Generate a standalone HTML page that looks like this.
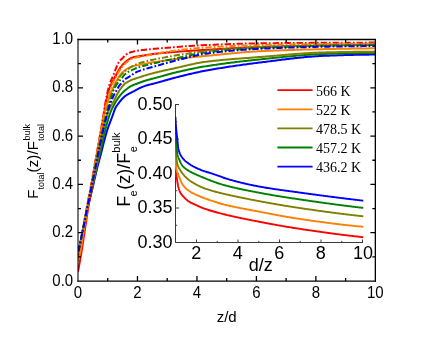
<!DOCTYPE html>
<html><head><meta charset="utf-8"><title>chart</title>
<style>
html,body{margin:0;padding:0;background:#fff;}
body{width:436px;height:337px;overflow:hidden;}
svg{display:block;will-change:transform;}
text{font-family:"Liberation Sans",sans-serif;fill:#000;}
.lg{font-family:"Liberation Serif",serif;font-size:14px;}
.t{font-size:15px;}
.ti{font-size:18px;}
.c{fill:none;stroke-linejoin:round;stroke-linecap:butt;}
</style></head><body>
<svg width="436" height="337" viewBox="0 0 436 337">
<rect width="436" height="337" fill="#fff"/>
<defs><clipPath id="ci"><rect x="175.0" y="100" width="200" height="142.5"/></clipPath><clipPath id="cp"><rect x="78.0" y="39.5" width="297.35" height="241.5"/></clipPath></defs>

<g clip-path="url(#cp)">
<path class="c" d="M78.00,252.00 L78.34,250.64 L78.68,249.27 L79.01,247.91 L79.35,246.54 L79.68,245.18 L80.00,243.81 L80.33,242.44 L80.65,241.08 L80.98,239.71 L81.29,238.34 L81.61,236.97 L81.93,235.60 L82.24,234.23 L82.55,232.86 L82.85,231.49 L83.15,230.12 L83.46,228.75 L83.75,227.37 L84.04,226.00 L84.32,224.62 L84.60,223.24 L84.87,221.87 L85.14,220.49 L85.41,219.11 L85.68,217.73 L85.95,216.35 L86.22,214.97 L86.49,213.59 L86.76,212.21 L87.04,210.83 L87.33,209.46 L87.62,208.08 L87.92,206.71 L88.22,205.34 L88.54,203.97 L88.87,202.61 L89.21,201.25 L89.56,199.89 L89.92,198.53 L90.28,197.17 L90.63,195.81 L90.98,194.45 L91.33,193.09 L91.67,191.72 L92.00,190.36 L92.32,188.99 L92.64,187.62 L92.96,186.25 L93.28,184.88 L93.59,183.51 L93.90,182.14 L94.21,180.77 L94.52,179.40 L94.83,178.03 L95.14,176.66 L95.46,175.29 L95.78,173.92 L96.10,172.56 L96.42,171.19 L96.75,169.82 L97.09,168.46 L97.43,167.10 L97.77,165.74 L98.13,164.38 L98.49,163.02 L98.85,161.66 L99.21,160.30 L99.57,158.95 L99.94,157.59 L100.30,156.23 L100.67,154.87 L101.03,153.52 L101.38,152.16 L101.73,150.79 L102.08,149.43 L102.42,148.07 L102.76,146.70 L103.11,145.34 L103.45,143.97 L103.79,142.61 L104.14,141.25 L104.49,139.89 L104.85,138.53 L105.22,137.17 L105.59,135.82 L105.97,134.47 L106.36,133.12 L106.76,131.78 L107.18,130.44 L107.61,129.11 L108.06,127.78 L108.52,126.45 L109.00,125.13 L109.49,123.81 L109.98,122.50 L110.48,121.18 L110.98,119.87 L111.49,118.55 L111.99,117.24 L112.49,115.92 L112.98,114.61 L113.45,113.28 L113.90,111.94 L114.35,110.60 L114.84,109.28 L115.40,108.01 L116.06,106.80 L116.84,105.62 L117.68,104.48 L118.54,103.35 L119.39,102.23 L120.25,101.12 L121.14,100.02 L122.07,98.96 L123.04,97.97 L124.07,97.01 L125.16,96.10 L126.29,95.27 L127.47,94.54 L128.71,93.87 L129.97,93.23 L131.23,92.59 L132.47,91.93 L133.71,91.28 L134.96,90.62 L136.19,89.94 L137.42,89.26 L138.66,88.62 L139.94,88.03 L141.22,87.46 L142.52,86.91 L143.83,86.40 L145.15,85.92 L146.48,85.48 L147.82,85.08 L149.18,84.71 L150.54,84.36 L151.91,84.03 L153.28,83.69 L154.64,83.35 L156.00,83.00 L157.36,82.63 L158.71,82.25 L160.07,81.87 L161.42,81.49 L162.77,81.10 L164.12,80.71 L165.47,80.32 L166.82,79.93 L168.17,79.55 L169.52,79.17 L170.88,78.79 L172.23,78.42 L173.59,78.06 L174.95,77.71 L176.31,77.37 L177.67,77.02 L179.03,76.68 L180.40,76.34 L181.76,76.00 L183.13,75.66 L184.49,75.32 L185.86,74.99 L187.23,74.65 L188.59,74.33 L189.96,74.00 L191.33,73.68 L192.70,73.37 L194.07,73.06 L195.45,72.75 L196.82,72.45 L198.19,72.16 L199.57,71.87 L200.94,71.59 L202.32,71.31 L203.69,71.05 L205.07,70.79 L206.45,70.53 L207.83,70.28 L209.21,70.03 L210.59,69.78 L211.97,69.54 L213.36,69.30 L214.74,69.06 L216.13,68.82 L217.51,68.59 L218.90,68.36 L220.28,68.13 L221.67,67.90 L223.06,67.68 L224.44,67.46 L225.83,67.24 L227.22,67.02 L228.61,66.81 L230.00,66.59 L231.39,66.38 L232.78,66.18 L234.18,65.97 L235.57,65.77 L236.96,65.56 L238.35,65.37 L239.74,65.17 L241.14,64.97 L242.53,64.78 L243.92,64.59 L245.32,64.40 L246.71,64.21 L248.10,64.02 L249.50,63.84 L250.89,63.65 L252.28,63.47 L253.68,63.29 L255.07,63.12 L256.46,62.94 L257.86,62.77 L259.25,62.59 L260.64,62.42 L262.04,62.25 L263.43,62.07 L264.83,61.90 L266.22,61.72 L267.61,61.54 L269.01,61.37 L270.40,61.19 L271.80,61.01 L273.19,60.83 L274.59,60.65 L275.98,60.47 L277.38,60.30 L278.78,60.12 L280.17,59.94 L281.57,59.77 L282.96,59.60 L284.36,59.42 L285.76,59.25 L287.16,59.08 L288.55,58.92 L289.95,58.75 L291.35,58.59 L292.75,58.43 L294.14,58.27 L295.54,58.11 L296.94,57.96 L298.34,57.81 L299.74,57.66 L301.13,57.52 L302.53,57.38 L303.93,57.25 L305.33,57.12 L306.73,56.99 L308.13,56.87 L309.53,56.75 L310.93,56.64 L312.33,56.53 L313.73,56.43 L315.13,56.33 L316.53,56.23 L317.93,56.15 L319.33,56.07 L320.73,55.99 L322.13,55.92 L323.53,55.86 L324.94,55.80 L326.34,55.75 L327.74,55.70 L329.14,55.65 L330.54,55.59 L331.94,55.54 L333.35,55.49 L334.75,55.44 L336.15,55.40 L337.55,55.35 L338.96,55.30 L340.36,55.25 L341.76,55.21 L343.17,55.17 L344.57,55.12 L345.98,55.08 L347.38,55.04 L348.78,55.00 L350.19,54.96 L351.59,54.93 L353.00,54.89 L354.40,54.86 L355.81,54.83 L357.21,54.80 L358.62,54.77 L360.03,54.74 L361.43,54.72 L362.84,54.70 L364.24,54.68 L365.65,54.66 L367.06,54.65 L368.46,54.63 L369.87,54.62 L371.28,54.61 L372.69,54.61 L374.09,54.60 L375.50,54.60" stroke="#0000ff" stroke-width="2"/>
<path class="c" d="M78.00,253.00 L78.34,251.62 L78.68,250.23 L79.01,248.84 L79.34,247.46 L79.67,246.07 L80.00,244.68 L80.32,243.29 L80.65,241.90 L80.97,240.52 L81.28,239.13 L81.60,237.74 L81.91,236.34 L82.22,234.95 L82.52,233.56 L82.82,232.17 L83.12,230.77 L83.42,229.38 L83.71,227.99 L84.00,226.59 L84.28,225.19 L84.55,223.79 L84.82,222.39 L85.08,220.99 L85.35,219.59 L85.61,218.19 L85.87,216.79 L86.13,215.39 L86.40,213.98 L86.66,212.58 L86.93,211.18 L87.21,209.79 L87.49,208.39 L87.78,206.99 L88.07,205.60 L88.37,204.21 L88.69,202.82 L89.02,201.43 L89.35,200.04 L89.69,198.66 L90.03,197.27 L90.37,195.89 L90.71,194.50 L91.04,193.12 L91.36,191.73 L91.68,190.34 L91.99,188.95 L92.31,187.56 L92.61,186.17 L92.92,184.78 L93.23,183.38 L93.53,181.99 L93.84,180.60 L94.14,179.20 L94.44,177.81 L94.74,176.42 L95.05,175.03 L95.35,173.63 L95.66,172.24 L95.96,170.85 L96.27,169.46 L96.59,168.07 L96.90,166.68 L97.21,165.29 L97.53,163.90 L97.85,162.51 L98.17,161.12 L98.49,159.73 L98.81,158.34 L99.13,156.95 L99.44,155.56 L99.76,154.17 L100.08,152.78 L100.39,151.39 L100.69,150.00 L100.99,148.60 L101.30,147.21 L101.60,145.81 L101.90,144.42 L102.20,143.02 L102.51,141.63 L102.81,140.24 L103.12,138.85 L103.44,137.46 L103.76,136.07 L104.09,134.68 L104.42,133.30 L104.77,131.92 L105.12,130.54 L105.47,129.16 L105.83,127.78 L106.19,126.39 L106.56,125.01 L106.93,123.63 L107.31,122.25 L107.71,120.88 L108.11,119.51 L108.52,118.14 L108.95,116.78 L109.39,115.43 L109.85,114.08 L110.32,112.75 L110.83,111.42 L111.39,110.11 L112.00,108.82 L112.63,107.54 L113.27,106.26 L113.93,105.00 L114.62,103.75 L115.33,102.52 L116.06,101.29 L116.82,100.08 L117.60,98.88 L118.41,97.71 L119.25,96.57 L120.14,95.45 L121.06,94.36 L122.02,93.30 L123.01,92.28 L124.05,91.30 L125.12,90.35 L126.22,89.44 L127.34,88.57 L128.50,87.71 L129.68,86.90 L130.90,86.17 L132.15,85.53 L133.44,84.96 L134.77,84.43 L136.12,83.94 L137.47,83.45 L138.81,82.96 L140.15,82.46 L141.49,81.97 L142.83,81.48 L144.18,81.02 L145.53,80.58 L146.89,80.17 L148.26,79.78 L149.64,79.42 L151.02,79.06 L152.41,78.72 L153.79,78.37 L155.17,78.02 L156.55,77.65 L157.93,77.28 L159.30,76.89 L160.67,76.51 L162.05,76.12 L163.42,75.72 L164.79,75.33 L166.16,74.94 L167.53,74.56 L168.91,74.18 L170.28,73.80 L171.66,73.44 L173.04,73.08 L174.42,72.74 L175.81,72.41 L177.19,72.08 L178.58,71.76 L179.97,71.43 L181.36,71.11 L182.75,70.80 L184.14,70.48 L185.53,70.17 L186.93,69.87 L188.32,69.57 L189.72,69.27 L191.12,68.98 L192.51,68.69 L193.91,68.41 L195.31,68.13 L196.71,67.86 L198.11,67.60 L199.52,67.34 L200.92,67.09 L202.32,66.85 L203.72,66.61 L205.13,66.38 L206.53,66.15 L207.94,65.93 L209.34,65.71 L210.75,65.50 L212.16,65.28 L213.57,65.07 L214.98,64.87 L216.39,64.66 L217.80,64.46 L219.21,64.26 L220.62,64.06 L222.03,63.86 L223.44,63.67 L224.86,63.48 L226.27,63.29 L227.69,63.11 L229.10,62.93 L230.52,62.74 L231.93,62.57 L233.35,62.39 L234.76,62.21 L236.18,62.04 L237.60,61.87 L239.01,61.70 L240.43,61.54 L241.85,61.37 L243.27,61.21 L244.68,61.05 L246.10,60.89 L247.52,60.73 L248.94,60.57 L250.35,60.42 L251.77,60.26 L253.19,60.11 L254.61,59.96 L256.02,59.81 L257.44,59.66 L258.86,59.52 L260.28,59.37 L261.69,59.23 L263.11,59.08 L264.53,58.93 L265.95,58.78 L267.36,58.63 L268.78,58.48 L270.20,58.33 L271.62,58.18 L273.04,58.03 L274.46,57.88 L275.88,57.73 L277.29,57.58 L278.71,57.43 L280.13,57.29 L281.55,57.14 L282.97,56.99 L284.39,56.85 L285.81,56.70 L287.23,56.56 L288.65,56.42 L290.07,56.28 L291.49,56.15 L292.91,56.01 L294.33,55.88 L295.75,55.75 L297.18,55.62 L298.60,55.50 L300.02,55.38 L301.44,55.26 L302.86,55.15 L304.28,55.04 L305.70,54.93 L307.13,54.82 L308.55,54.72 L309.97,54.63 L311.39,54.54 L312.81,54.45 L314.24,54.37 L315.66,54.29 L317.08,54.21 L318.50,54.14 L319.92,54.08 L321.35,54.02 L322.77,53.97 L324.19,53.92 L325.62,53.88 L327.04,53.84 L328.46,53.80 L329.89,53.76 L331.31,53.72 L332.73,53.68 L334.16,53.65 L335.58,53.61 L337.00,53.57 L338.43,53.54 L339.85,53.50 L341.28,53.47 L342.70,53.43 L344.13,53.40 L345.55,53.37 L346.98,53.34 L348.40,53.31 L349.83,53.28 L351.25,53.25 L352.68,53.22 L354.10,53.20 L355.53,53.17 L356.95,53.15 L358.38,53.13 L359.81,53.11 L361.23,53.09 L362.66,53.08 L364.08,53.06 L365.51,53.05 L366.94,53.03 L368.36,53.02 L369.79,53.02 L371.22,53.01 L372.65,53.00 L374.07,53.00 L375.50,53.00" stroke="#008000" stroke-width="2"/>
<path class="c" d="M78.00,254.00 L78.33,252.59 L78.66,251.18 L78.98,249.77 L79.30,248.36 L79.63,246.95 L79.94,245.54 L80.26,244.13 L80.57,242.72 L80.89,241.30 L81.20,239.89 L81.50,238.48 L81.81,237.06 L82.11,235.65 L82.41,234.23 L82.71,232.82 L83.00,231.40 L83.30,229.99 L83.59,228.57 L83.87,227.15 L84.15,225.73 L84.43,224.31 L84.70,222.89 L84.96,221.47 L85.23,220.05 L85.49,218.62 L85.75,217.20 L86.02,215.78 L86.28,214.36 L86.55,212.93 L86.81,211.51 L87.08,210.09 L87.36,208.67 L87.64,207.25 L87.93,205.83 L88.22,204.42 L88.53,203.00 L88.84,201.59 L89.15,200.18 L89.47,198.77 L89.80,197.36 L90.12,195.95 L90.44,194.54 L90.75,193.13 L91.06,191.71 L91.37,190.30 L91.67,188.88 L91.97,187.47 L92.27,186.06 L92.57,184.64 L92.87,183.22 L93.17,181.81 L93.47,180.39 L93.76,178.98 L94.06,177.56 L94.35,176.14 L94.64,174.73 L94.93,173.31 L95.22,171.89 L95.50,170.47 L95.79,169.06 L96.07,167.64 L96.35,166.22 L96.63,164.80 L96.91,163.38 L97.18,161.96 L97.45,160.54 L97.72,159.12 L97.99,157.70 L98.26,156.27 L98.54,154.85 L98.81,153.43 L99.08,152.01 L99.34,150.59 L99.60,149.17 L99.86,147.74 L100.12,146.32 L100.38,144.89 L100.64,143.47 L100.90,142.05 L101.17,140.62 L101.43,139.20 L101.71,137.78 L101.98,136.36 L102.27,134.94 L102.56,133.53 L102.86,132.11 L103.17,130.70 L103.48,129.29 L103.79,127.87 L104.10,126.45 L104.41,125.03 L104.74,123.61 L105.07,122.19 L105.41,120.78 L105.77,119.37 L106.14,117.97 L106.53,116.58 L106.94,115.20 L107.37,113.83 L107.83,112.48 L108.33,111.14 L108.92,109.82 L109.56,108.52 L110.24,107.23 L110.93,105.95 L111.64,104.69 L112.39,103.46 L113.15,102.22 L113.86,100.96 L114.53,99.68 L115.15,98.37 L115.77,97.06 L116.40,95.76 L117.08,94.49 L117.78,93.22 L118.51,91.97 L119.26,90.73 L120.05,89.52 L120.88,88.34 L121.75,87.18 L122.66,86.05 L123.59,84.92 L124.60,83.92 L125.73,83.06 L126.95,82.27 L128.22,81.53 L129.53,80.86 L130.85,80.24 L132.17,79.68 L133.51,79.18 L134.89,78.71 L136.27,78.27 L137.66,77.84 L139.04,77.39 L140.41,76.93 L141.78,76.48 L143.16,76.03 L144.54,75.60 L145.93,75.19 L147.31,74.78 L148.71,74.39 L150.10,74.00 L151.50,73.62 L152.90,73.25 L154.30,72.88 L155.70,72.52 L157.10,72.17 L158.51,71.83 L159.91,71.49 L161.32,71.17 L162.73,70.85 L164.14,70.53 L165.56,70.22 L166.97,69.92 L168.38,69.61 L169.80,69.31 L171.22,69.01 L172.63,68.71 L174.05,68.41 L175.46,68.10 L176.87,67.79 L178.29,67.47 L179.70,67.14 L181.11,66.81 L182.52,66.48 L183.93,66.15 L185.35,65.81 L186.76,65.48 L188.17,65.15 L189.58,64.82 L191.00,64.50 L192.41,64.19 L193.83,63.88 L195.24,63.58 L196.66,63.29 L198.08,63.02 L199.50,62.76 L200.92,62.51 L202.34,62.28 L203.76,62.07 L205.19,61.88 L206.62,61.69 L208.05,61.51 L209.48,61.34 L210.91,61.17 L212.34,61.01 L213.78,60.85 L215.21,60.70 L216.65,60.54 L218.08,60.40 L219.52,60.25 L220.96,60.11 L222.40,59.98 L223.84,59.84 L225.28,59.71 L226.72,59.59 L228.17,59.46 L229.61,59.34 L231.05,59.22 L232.50,59.10 L233.94,58.98 L235.39,58.87 L236.83,58.76 L238.28,58.64 L239.72,58.53 L241.17,58.42 L242.61,58.31 L244.06,58.21 L245.50,58.10 L246.95,57.99 L248.39,57.88 L249.84,57.78 L251.28,57.67 L252.73,57.56 L254.17,57.45 L255.62,57.34 L257.06,57.23 L258.50,57.12 L259.94,57.00 L261.39,56.89 L262.83,56.77 L264.27,56.65 L265.71,56.53 L267.15,56.41 L268.60,56.29 L270.04,56.17 L271.48,56.04 L272.92,55.92 L274.36,55.79 L275.81,55.67 L277.25,55.54 L278.69,55.41 L280.13,55.29 L281.57,55.16 L283.02,55.04 L284.46,54.91 L285.90,54.79 L287.34,54.67 L288.79,54.54 L290.23,54.43 L291.67,54.31 L293.12,54.19 L294.56,54.08 L296.00,53.96 L297.44,53.85 L298.89,53.74 L300.33,53.64 L301.77,53.54 L303.22,53.44 L304.66,53.34 L306.10,53.25 L307.55,53.16 L308.99,53.07 L310.43,52.99 L311.88,52.91 L313.32,52.83 L314.77,52.76 L316.21,52.70 L317.65,52.63 L319.10,52.58 L320.54,52.53 L321.99,52.48 L323.43,52.44 L324.88,52.40 L326.32,52.37 L327.77,52.34 L329.21,52.31 L330.66,52.28 L332.10,52.24 L333.55,52.21 L334.99,52.18 L336.44,52.15 L337.88,52.13 L339.33,52.10 L340.77,52.07 L342.22,52.04 L343.67,52.02 L345.11,51.99 L346.56,51.97 L348.00,51.94 L349.45,51.92 L350.90,51.90 L352.34,51.88 L353.79,51.86 L355.24,51.84 L356.68,51.82 L358.13,51.80 L359.58,51.79 L361.02,51.77 L362.47,51.76 L363.92,51.75 L365.37,51.74 L366.81,51.73 L368.26,51.72 L369.71,51.71 L371.16,51.71 L372.60,51.70 L374.05,51.70 L375.50,51.70" stroke="#808000" stroke-width="2"/>
<path class="c" d="M78.00,271.80 L78.29,270.26 L78.57,268.71 L78.85,267.17 L79.13,265.62 L79.40,264.08 L79.68,262.53 L79.95,260.99 L80.22,259.44 L80.48,257.90 L80.75,256.35 L81.01,254.80 L81.27,253.25 L81.52,251.71 L81.77,250.16 L82.02,248.61 L82.27,247.06 L82.51,245.51 L82.75,243.96 L82.99,242.41 L83.22,240.86 L83.45,239.30 L83.69,237.75 L83.92,236.20 L84.15,234.65 L84.38,233.09 L84.61,231.54 L84.85,229.99 L85.09,228.44 L85.32,226.89 L85.56,225.34 L85.79,223.79 L86.02,222.23 L86.26,220.68 L86.49,219.13 L86.72,217.58 L86.96,216.03 L87.20,214.47 L87.44,212.92 L87.68,211.37 L87.92,209.82 L88.17,208.27 L88.42,206.72 L88.67,205.18 L88.93,203.63 L89.20,202.08 L89.47,200.54 L89.75,198.99 L90.03,197.45 L90.31,195.91 L90.59,194.36 L90.86,192.82 L91.12,191.27 L91.38,189.72 L91.64,188.17 L91.89,186.62 L92.15,185.08 L92.39,183.53 L92.64,181.98 L92.89,180.43 L93.14,178.88 L93.38,177.33 L93.63,175.78 L93.88,174.23 L94.13,172.68 L94.38,171.13 L94.64,169.58 L94.89,168.03 L95.15,166.49 L95.42,164.94 L95.68,163.39 L95.95,161.85 L96.21,160.30 L96.48,158.75 L96.75,157.21 L97.01,155.66 L97.28,154.11 L97.55,152.57 L97.82,151.02 L98.09,149.48 L98.36,147.93 L98.63,146.39 L98.90,144.84 L99.17,143.29 L99.44,141.75 L99.72,140.20 L99.99,138.66 L100.25,137.11 L100.52,135.57 L100.79,134.02 L101.05,132.47 L101.31,130.92 L101.57,129.38 L101.83,127.83 L102.08,126.28 L102.33,124.73 L102.58,123.18 L102.83,121.63 L103.07,120.08 L103.32,118.53 L103.57,116.98 L103.83,115.44 L104.08,113.89 L104.34,112.34 L104.60,110.79 L104.86,109.24 L105.11,107.69 L105.37,106.14 L105.63,104.59 L105.91,103.05 L106.20,101.51 L106.51,99.97 L106.83,98.44 L107.17,96.90 L107.52,95.36 L107.89,93.83 L108.29,92.30 L108.71,90.79 L109.17,89.30 L109.66,87.83 L110.24,86.38 L110.91,84.96 L111.62,83.55 L112.33,82.14 L113.03,80.74 L113.75,79.34 L114.47,77.95 L115.21,76.56 L115.94,75.17 L116.66,73.77 L117.39,72.38 L118.15,71.01 L118.96,69.67 L119.81,68.36 L120.72,67.06 L121.67,65.81 L122.68,64.62 L123.76,63.49 L124.90,62.39 L126.10,61.37 L127.34,60.42 L128.63,59.49 L129.97,58.61 L131.36,57.88 L132.79,57.39 L134.29,57.01 L135.84,56.70 L137.40,56.43 L138.98,56.17 L140.53,55.91 L142.07,55.65 L143.62,55.39 L145.17,55.15 L146.72,54.91 L148.28,54.68 L149.83,54.46 L151.39,54.25 L152.94,54.05 L154.50,53.86 L156.06,53.68 L157.62,53.51 L159.18,53.34 L160.74,53.18 L162.30,53.02 L163.86,52.87 L165.42,52.72 L166.99,52.57 L168.55,52.43 L170.11,52.29 L171.68,52.16 L173.24,52.03 L174.81,51.90 L176.37,51.78 L177.94,51.66 L179.50,51.54 L181.07,51.42 L182.63,51.31 L184.20,51.19 L185.76,51.09 L187.33,50.98 L188.89,50.88 L190.46,50.78 L192.02,50.68 L193.59,50.58 L195.16,50.48 L196.72,50.39 L198.29,50.29 L199.86,50.20 L201.42,50.11 L202.99,50.02 L204.56,49.93 L206.12,49.83 L207.69,49.74 L209.26,49.65 L210.82,49.55 L212.39,49.46 L213.96,49.37 L215.52,49.27 L217.09,49.18 L218.66,49.08 L220.22,48.99 L221.79,48.90 L223.36,48.80 L224.92,48.71 L226.49,48.62 L228.06,48.53 L229.62,48.43 L231.19,48.34 L232.76,48.26 L234.32,48.17 L235.89,48.08 L237.46,48.00 L239.02,47.91 L240.59,47.83 L242.16,47.75 L243.73,47.67 L245.29,47.60 L246.86,47.52 L248.43,47.45 L250.00,47.38 L251.56,47.32 L253.13,47.25 L254.70,47.19 L256.27,47.13 L257.83,47.07 L259.40,47.02 L260.97,46.97 L262.54,46.92 L264.11,46.87 L265.67,46.82 L267.24,46.77 L268.81,46.73 L270.38,46.68 L271.95,46.64 L273.52,46.60 L275.08,46.55 L276.65,46.51 L278.22,46.47 L279.79,46.43 L281.36,46.39 L282.93,46.35 L284.50,46.31 L286.06,46.27 L287.63,46.24 L289.20,46.20 L290.77,46.16 L292.34,46.13 L293.91,46.09 L295.48,46.06 L297.05,46.03 L298.62,45.99 L300.19,45.96 L301.75,45.93 L303.32,45.90 L304.89,45.87 L306.46,45.84 L308.03,45.81 L309.60,45.78 L311.17,45.75 L312.74,45.72 L314.31,45.69 L315.88,45.66 L317.45,45.63 L319.01,45.60 L320.58,45.58 L322.15,45.55 L323.72,45.52 L325.29,45.50 L326.86,45.47 L328.43,45.44 L330.00,45.42 L331.57,45.39 L333.14,45.36 L334.70,45.34 L336.27,45.31 L337.84,45.29 L339.41,45.26 L340.98,45.24 L342.55,45.22 L344.12,45.19 L345.69,45.17 L347.26,45.15 L348.83,45.12 L350.39,45.10 L351.96,45.08 L353.53,45.06 L355.10,45.04 L356.67,45.02 L358.24,45.00 L359.81,44.98 L361.38,44.96 L362.95,44.94 L364.52,44.92 L366.09,44.90 L367.65,44.88 L369.22,44.87 L370.79,44.85 L372.36,44.83 L373.93,44.82 L375.50,44.80" stroke="#ff0000" stroke-width="2"/>
<path class="c" d="M78.00,261.00 L78.41,259.55 L78.81,258.09 L79.20,256.63 L79.58,255.17 L79.93,253.70 L80.25,252.23 L80.55,250.76 L80.83,249.28 L81.10,247.80 L81.35,246.31 L81.60,244.83 L81.83,243.34 L82.06,241.85 L82.29,240.35 L82.51,238.86 L82.73,237.36 L82.95,235.87 L83.17,234.38 L83.39,232.88 L83.62,231.39 L83.85,229.90 L84.10,228.41 L84.34,226.92 L84.58,225.43 L84.83,223.95 L85.07,222.46 L85.32,220.97 L85.56,219.48 L85.81,217.99 L86.06,216.50 L86.30,215.02 L86.55,213.53 L86.80,212.04 L87.05,210.55 L87.31,209.07 L87.56,207.58 L87.81,206.09 L88.07,204.61 L88.33,203.12 L88.59,201.64 L88.85,200.15 L89.11,198.67 L89.38,197.18 L89.64,195.70 L89.91,194.21 L90.17,192.73 L90.43,191.24 L90.69,189.75 L90.95,188.27 L91.21,186.78 L91.47,185.30 L91.73,183.81 L91.99,182.33 L92.25,180.84 L92.51,179.35 L92.77,177.87 L93.03,176.38 L93.29,174.90 L93.55,173.41 L93.81,171.93 L94.07,170.44 L94.33,168.95 L94.59,167.47 L94.86,165.98 L95.12,164.50 L95.39,163.01 L95.66,161.53 L95.92,160.05 L96.19,158.56 L96.45,157.08 L96.72,155.59 L96.98,154.11 L97.24,152.62 L97.50,151.13 L97.76,149.65 L98.01,148.16 L98.26,146.67 L98.51,145.19 L98.77,143.70 L99.02,142.21 L99.27,140.73 L99.53,139.24 L99.79,137.75 L100.05,136.27 L100.31,134.78 L100.58,133.30 L100.85,131.82 L101.12,130.33 L101.40,128.85 L101.67,127.36 L101.94,125.88 L102.22,124.39 L102.50,122.91 L102.78,121.43 L103.07,119.94 L103.37,118.46 L103.67,116.99 L103.99,115.51 L104.32,114.04 L104.66,112.58 L105.02,111.12 L105.39,109.66 L105.79,108.20 L106.20,106.75 L106.62,105.30 L107.07,103.85 L107.52,102.41 L107.99,100.98 L108.47,99.55 L108.96,98.12 L109.46,96.71 L109.99,95.29 L110.54,93.89 L111.10,92.49 L111.68,91.09 L112.28,89.70 L112.90,88.32 L113.52,86.95 L114.17,85.59 L114.84,84.25 L115.54,82.91 L116.26,81.58 L116.99,80.26 L117.73,78.94 L118.48,77.63 L119.28,76.35 L120.15,75.12 L121.09,73.93 L122.10,72.80 L123.17,71.76 L124.31,70.77 L125.52,69.84 L126.77,69.00 L128.06,68.25 L129.41,67.53 L130.79,66.88 L132.21,66.34 L133.63,65.94 L135.10,65.63 L136.59,65.37 L138.09,65.13 L139.59,64.88 L141.07,64.59 L142.55,64.29 L144.02,63.98 L145.50,63.67 L146.98,63.37 L148.46,63.08 L149.94,62.81 L151.43,62.56 L152.92,62.33 L154.41,62.10 L155.90,61.89 L157.39,61.67 L158.89,61.46 L160.38,61.24 L161.87,61.03 L163.37,60.81 L164.86,60.58 L166.35,60.36 L167.84,60.14 L169.34,59.93 L170.83,59.71 L172.32,59.50 L173.82,59.29 L175.31,59.09 L176.81,58.89 L178.30,58.70 L179.80,58.52 L181.30,58.35 L182.79,58.18 L184.29,58.02 L185.79,57.86 L187.29,57.70 L188.79,57.54 L190.29,57.39 L191.80,57.25 L193.30,57.10 L194.80,56.96 L196.30,56.81 L197.80,56.67 L199.31,56.53 L200.81,56.39 L202.31,56.25 L203.81,56.11 L205.31,55.97 L206.81,55.83 L208.32,55.68 L209.82,55.54 L211.32,55.39 L212.82,55.24 L214.32,55.09 L215.82,54.94 L217.32,54.79 L218.83,54.64 L220.33,54.49 L221.83,54.34 L223.33,54.18 L224.83,54.03 L226.34,53.88 L227.84,53.73 L229.34,53.59 L230.84,53.44 L232.34,53.30 L233.85,53.15 L235.35,53.01 L236.85,52.88 L238.35,52.74 L239.86,52.61 L241.36,52.48 L242.86,52.35 L244.36,52.23 L245.87,52.11 L247.37,51.99 L248.87,51.88 L250.38,51.77 L251.88,51.67 L253.39,51.57 L254.89,51.48 L256.39,51.39 L257.90,51.31 L259.40,51.23 L260.91,51.16 L262.41,51.09 L263.92,51.02 L265.43,50.95 L266.93,50.88 L268.44,50.82 L269.94,50.75 L271.45,50.69 L272.96,50.63 L274.46,50.57 L275.97,50.51 L277.48,50.45 L278.98,50.39 L280.49,50.34 L282.00,50.28 L283.51,50.23 L285.01,50.18 L286.52,50.13 L288.03,50.08 L289.54,50.03 L291.04,49.98 L292.55,49.93 L294.06,49.88 L295.57,49.84 L297.08,49.79 L298.59,49.75 L300.09,49.71 L301.60,49.66 L303.11,49.62 L304.62,49.58 L306.13,49.54 L307.64,49.50 L309.14,49.46 L310.65,49.43 L312.16,49.39 L313.67,49.35 L315.18,49.32 L316.68,49.28 L318.19,49.25 L319.70,49.21 L321.21,49.18 L322.72,49.15 L324.23,49.12 L325.73,49.08 L327.24,49.05 L328.75,49.02 L330.26,48.99 L331.76,48.96 L333.27,48.93 L334.78,48.90 L336.29,48.87 L337.80,48.84 L339.30,48.81 L340.81,48.79 L342.32,48.76 L343.83,48.73 L345.34,48.71 L346.84,48.68 L348.35,48.65 L349.86,48.63 L351.37,48.60 L352.88,48.58 L354.38,48.56 L355.89,48.53 L357.40,48.51 L358.91,48.49 L360.42,48.47 L361.93,48.45 L363.43,48.43 L364.94,48.41 L366.45,48.39 L367.96,48.38 L369.47,48.36 L370.98,48.34 L372.48,48.33 L373.99,48.31 L375.50,48.30" stroke="#ff8000" stroke-width="2"/>
<path class="c" d="M78.00,256.00 L78.27,254.49 L78.55,252.97 L78.82,251.46 L79.09,249.95 L79.37,248.44 L79.64,246.93 L79.92,245.41 L80.19,243.90 L80.46,242.39 L80.74,240.88 L81.01,239.36 L81.29,237.85 L81.56,236.34 L81.84,234.83 L82.11,233.32 L82.39,231.80 L82.66,230.29 L82.94,228.78 L83.22,227.27 L83.49,225.75 L83.77,224.24 L84.04,222.73 L84.32,221.22 L84.59,219.71 L84.87,218.19 L85.14,216.68 L85.42,215.17 L85.69,213.66 L85.97,212.15 L86.25,210.63 L86.53,209.12 L86.81,207.61 L87.09,206.10 L87.38,204.59 L87.66,203.08 L87.96,201.57 L88.25,200.06 L88.54,198.55 L88.84,197.05 L89.13,195.54 L89.42,194.03 L89.70,192.52 L89.98,191.01 L90.26,189.49 L90.54,187.98 L90.81,186.47 L91.09,184.96 L91.36,183.44 L91.63,181.93 L91.90,180.42 L92.17,178.91 L92.43,177.39 L92.70,175.88 L92.97,174.36 L93.24,172.85 L93.51,171.34 L93.77,169.82 L94.04,168.31 L94.31,166.80 L94.58,165.29 L94.85,163.77 L95.12,162.26 L95.39,160.75 L95.66,159.23 L95.93,157.72 L96.20,156.21 L96.47,154.69 L96.75,153.18 L97.02,151.67 L97.30,150.16 L97.58,148.65 L97.86,147.13 L98.14,145.62 L98.42,144.11 L98.71,142.60 L98.99,141.09 L99.26,139.58 L99.54,138.07 L99.82,136.55 L100.09,135.04 L100.36,133.53 L100.62,132.02 L100.89,130.50 L101.14,128.99 L101.40,127.47 L101.65,125.95 L101.89,124.44 L102.14,122.92 L102.38,121.40 L102.63,119.88 L102.87,118.37 L103.11,116.85 L103.36,115.33 L103.60,113.81 L103.85,112.30 L104.10,110.78 L104.34,109.26 L104.58,107.74 L104.83,106.22 L105.07,104.71 L105.33,103.19 L105.59,101.68 L105.87,100.17 L106.15,98.66 L106.44,97.14 L106.74,95.63 L107.05,94.12 L107.36,92.61 L107.70,91.10 L108.05,89.61 L108.42,88.12 L108.82,86.65 L109.25,85.18 L109.74,83.74 L110.28,82.31 L110.86,80.88 L111.47,79.47 L112.09,78.05 L112.72,76.64 L113.32,75.22 L113.90,73.79 L114.45,72.35 L114.99,70.91 L115.52,69.46 L116.07,68.03 L116.65,66.61 L117.27,65.21 L117.93,63.79 L118.65,62.42 L119.47,61.17 L120.49,60.04 L121.63,58.99 L122.77,57.93 L123.84,56.81 L124.89,55.67 L126.02,54.66 L127.29,53.79 L128.65,53.03 L130.05,52.46 L131.51,52.01 L133.01,51.63 L134.52,51.28 L136.03,50.96 L137.54,50.69 L139.06,50.46 L140.58,50.26 L142.10,50.08 L143.63,49.90 L145.16,49.74 L146.69,49.58 L148.22,49.43 L149.75,49.29 L151.29,49.14 L152.82,49.00 L154.35,48.86 L155.88,48.72 L157.41,48.57 L158.94,48.43 L160.47,48.29 L162.00,48.16 L163.53,48.02 L165.06,47.89 L166.59,47.76 L168.13,47.63 L169.66,47.50 L171.19,47.38 L172.72,47.25 L174.25,47.13 L175.79,47.01 L177.32,46.90 L178.85,46.78 L180.38,46.67 L181.92,46.56 L183.45,46.45 L184.98,46.34 L186.52,46.23 L188.05,46.12 L189.58,46.01 L191.12,45.91 L192.65,45.80 L194.19,45.70 L195.72,45.61 L197.25,45.51 L198.79,45.42 L200.32,45.33 L201.86,45.25 L203.39,45.18 L204.93,45.10 L206.46,45.03 L208.00,44.97 L209.53,44.90 L211.07,44.83 L212.60,44.76 L214.14,44.70 L215.67,44.63 L217.21,44.57 L218.74,44.50 L220.28,44.44 L221.82,44.38 L223.35,44.32 L224.89,44.26 L226.42,44.20 L227.96,44.14 L229.50,44.08 L231.03,44.03 L232.57,43.97 L234.11,43.92 L235.64,43.87 L237.18,43.82 L238.72,43.77 L240.25,43.73 L241.79,43.68 L243.33,43.64 L244.86,43.60 L246.40,43.56 L247.94,43.52 L249.47,43.49 L251.01,43.45 L252.55,43.42 L254.08,43.39 L255.62,43.36 L257.16,43.34 L258.69,43.32 L260.23,43.30 L261.76,43.28 L263.30,43.26 L264.84,43.24 L266.37,43.22 L267.91,43.21 L269.45,43.19 L270.99,43.17 L272.52,43.16 L274.06,43.14 L275.60,43.13 L277.13,43.11 L278.67,43.10 L280.21,43.09 L281.74,43.07 L283.28,43.06 L284.82,43.05 L286.35,43.03 L287.89,43.02 L289.43,43.01 L290.96,43.00 L292.50,42.99 L294.04,42.98 L295.58,42.97 L297.11,42.96 L298.65,42.95 L300.19,42.94 L301.72,42.93 L303.26,42.92 L304.80,42.91 L306.34,42.90 L307.87,42.89 L309.41,42.88 L310.95,42.87 L312.48,42.87 L314.02,42.86 L315.56,42.85 L317.09,42.84 L318.63,42.83 L320.17,42.83 L321.71,42.82 L323.24,42.81 L324.78,42.80 L326.32,42.79 L327.85,42.79 L329.39,42.78 L330.93,42.77 L332.46,42.76 L334.00,42.75 L335.54,42.75 L337.08,42.74 L338.61,42.73 L340.15,42.73 L341.69,42.72 L343.22,42.71 L344.76,42.71 L346.30,42.70 L347.83,42.69 L349.37,42.69 L350.91,42.68 L352.45,42.67 L353.98,42.67 L355.52,42.66 L357.06,42.66 L358.59,42.65 L360.13,42.64 L361.67,42.64 L363.20,42.63 L364.74,42.63 L366.28,42.62 L367.82,42.62 L369.35,42.62 L370.89,42.61 L372.43,42.61 L373.96,42.60 L375.50,42.60" stroke="#ff0000" stroke-width="2" stroke-dasharray="6.3 2 1.7 2" stroke-dashoffset="3.3"/>
<path class="c" d="M78.00,255.50 L78.28,254.01 L78.56,252.53 L78.84,251.04 L79.12,249.56 L79.40,248.07 L79.69,246.59 L79.97,245.10 L80.25,243.61 L80.53,242.13 L80.81,240.64 L81.09,239.16 L81.37,237.67 L81.65,236.18 L81.93,234.70 L82.21,233.21 L82.49,231.73 L82.77,230.24 L83.05,228.75 L83.33,227.27 L83.60,225.78 L83.88,224.30 L84.16,222.81 L84.44,221.32 L84.71,219.84 L84.99,218.35 L85.27,216.86 L85.55,215.38 L85.83,213.89 L86.10,212.40 L86.38,210.92 L86.66,209.43 L86.94,207.95 L87.22,206.46 L87.50,204.97 L87.79,203.49 L88.08,202.00 L88.36,200.52 L88.65,199.04 L88.94,197.55 L89.23,196.07 L89.51,194.58 L89.79,193.10 L90.07,191.61 L90.35,190.12 L90.62,188.64 L90.89,187.15 L91.16,185.66 L91.43,184.17 L91.69,182.68 L91.96,181.19 L92.22,179.71 L92.49,178.22 L92.75,176.73 L93.01,175.24 L93.28,173.75 L93.54,172.26 L93.81,170.77 L94.07,169.28 L94.34,167.79 L94.60,166.31 L94.87,164.82 L95.14,163.33 L95.40,161.84 L95.67,160.35 L95.94,158.86 L96.20,157.38 L96.47,155.89 L96.73,154.40 L96.99,152.91 L97.25,151.42 L97.51,149.93 L97.76,148.44 L98.02,146.95 L98.27,145.46 L98.52,143.97 L98.78,142.47 L99.03,140.98 L99.29,139.49 L99.54,138.00 L99.80,136.51 L100.07,135.02 L100.33,133.54 L100.61,132.05 L100.88,130.56 L101.16,129.08 L101.44,127.59 L101.73,126.11 L102.01,124.62 L102.30,123.14 L102.60,121.65 L102.89,120.17 L103.19,118.69 L103.50,117.21 L103.81,115.73 L104.12,114.25 L104.43,112.77 L104.75,111.29 L105.08,109.81 L105.41,108.34 L105.74,106.86 L106.08,105.39 L106.43,103.92 L106.78,102.45 L107.15,100.98 L107.53,99.52 L107.91,98.05 L108.31,96.59 L108.71,95.13 L109.13,93.68 L109.57,92.23 L110.02,90.79 L110.48,89.35 L110.97,87.92 L111.48,86.50 L112.02,85.08 L112.58,83.67 L113.17,82.29 L113.80,80.92 L114.48,79.56 L115.19,78.23 L115.92,76.90 L116.64,75.57 L117.37,74.24 L118.11,72.92 L118.88,71.61 L119.68,70.33 L120.52,69.08 L121.41,67.85 L122.34,66.65 L123.32,65.50 L124.35,64.41 L125.44,63.35 L126.59,62.35 L127.77,61.42 L129.00,60.52 L130.28,59.66 L131.61,58.92 L132.97,58.37 L134.40,57.96 L135.87,57.62 L137.38,57.32 L138.88,57.03 L140.37,56.72 L141.85,56.41 L143.33,56.11 L144.81,55.81 L146.29,55.51 L147.78,55.23 L149.27,54.94 L150.75,54.66 L152.24,54.39 L153.73,54.12 L155.22,53.86 L156.71,53.60 L158.20,53.34 L159.69,53.09 L161.18,52.83 L162.67,52.58 L164.16,52.32 L165.65,52.08 L167.15,51.83 L168.64,51.59 L170.14,51.36 L171.63,51.13 L173.13,50.91 L174.62,50.70 L176.12,50.49 L177.62,50.30 L179.12,50.11 L180.62,49.93 L182.12,49.75 L183.62,49.58 L185.12,49.41 L186.63,49.24 L188.13,49.08 L189.63,48.92 L191.14,48.77 L192.65,48.62 L194.15,48.48 L195.66,48.34 L197.17,48.20 L198.67,48.07 L200.18,47.95 L201.69,47.83 L203.20,47.72 L204.70,47.62 L206.21,47.52 L207.72,47.42 L209.23,47.32 L210.73,47.23 L212.24,47.13 L213.75,47.04 L215.26,46.95 L216.77,46.86 L218.28,46.77 L219.79,46.68 L221.30,46.60 L222.81,46.51 L224.32,46.43 L225.83,46.35 L227.34,46.27 L228.85,46.19 L230.36,46.11 L231.87,46.04 L233.38,45.96 L234.90,45.89 L236.41,45.82 L237.92,45.76 L239.43,45.69 L240.94,45.63 L242.45,45.56 L243.96,45.50 L245.47,45.45 L246.99,45.39 L248.50,45.34 L250.01,45.29 L251.52,45.24 L253.03,45.19 L254.54,45.14 L256.05,45.10 L257.57,45.06 L259.08,45.02 L260.59,44.99 L262.10,44.95 L263.61,44.92 L265.12,44.88 L266.63,44.85 L268.15,44.82 L269.66,44.79 L271.17,44.76 L272.68,44.73 L274.19,44.70 L275.70,44.67 L277.22,44.64 L278.73,44.61 L280.24,44.59 L281.75,44.56 L283.26,44.54 L284.77,44.51 L286.29,44.49 L287.80,44.46 L289.31,44.44 L290.82,44.42 L292.33,44.39 L293.85,44.37 L295.36,44.35 L296.87,44.33 L298.38,44.31 L299.90,44.29 L301.41,44.27 L302.92,44.25 L304.43,44.23 L305.94,44.21 L307.46,44.19 L308.97,44.18 L310.48,44.16 L311.99,44.14 L313.51,44.12 L315.02,44.11 L316.53,44.09 L318.04,44.07 L319.55,44.06 L321.07,44.04 L322.58,44.03 L324.09,44.01 L325.60,43.99 L327.11,43.98 L328.63,43.96 L330.14,43.95 L331.65,43.93 L333.16,43.92 L334.67,43.90 L336.19,43.89 L337.70,43.87 L339.21,43.86 L340.72,43.85 L342.23,43.83 L343.75,43.82 L345.26,43.81 L346.77,43.79 L348.28,43.78 L349.79,43.77 L351.31,43.76 L352.82,43.74 L354.33,43.73 L355.84,43.72 L357.35,43.71 L358.87,43.70 L360.38,43.69 L361.89,43.68 L363.40,43.67 L364.92,43.66 L366.43,43.65 L367.94,43.64 L369.45,43.63 L370.96,43.62 L372.48,43.61 L373.99,43.61 L375.50,43.60" stroke="#ff8000" stroke-width="2" stroke-dasharray="6.3 2 1.7 2" stroke-dashoffset="6"/>
<path class="c" d="M78.00,254.50 L78.29,253.04 L78.58,251.58 L78.87,250.12 L79.15,248.66 L79.44,247.20 L79.73,245.74 L80.02,244.28 L80.30,242.83 L80.59,241.37 L80.88,239.91 L81.16,238.45 L81.45,236.99 L81.73,235.53 L82.02,234.07 L82.30,232.61 L82.58,231.15 L82.87,229.69 L83.15,228.23 L83.43,226.77 L83.71,225.30 L83.99,223.84 L84.27,222.38 L84.55,220.92 L84.83,219.46 L85.10,218.00 L85.38,216.54 L85.66,215.08 L85.94,213.61 L86.22,212.15 L86.50,210.69 L86.78,209.23 L87.06,207.77 L87.34,206.31 L87.63,204.85 L87.92,203.39 L88.21,201.93 L88.50,200.48 L88.80,199.02 L89.09,197.56 L89.38,196.10 L89.68,194.64 L89.97,193.18 L90.25,191.72 L90.54,190.26 L90.82,188.80 L91.11,187.34 L91.39,185.88 L91.67,184.42 L91.95,182.96 L92.23,181.50 L92.50,180.04 L92.78,178.58 L93.06,177.12 L93.34,175.66 L93.62,174.19 L93.89,172.73 L94.17,171.27 L94.45,169.81 L94.73,168.35 L95.01,166.89 L95.29,165.43 L95.57,163.97 L95.85,162.51 L96.13,161.05 L96.41,159.58 L96.69,158.12 L96.98,156.66 L97.26,155.20 L97.55,153.74 L97.84,152.29 L98.13,150.83 L98.42,149.37 L98.71,147.91 L99.00,146.45 L99.29,144.99 L99.59,143.53 L99.88,142.07 L100.18,140.62 L100.48,139.16 L100.78,137.70 L101.08,136.25 L101.39,134.79 L101.70,133.34 L102.01,131.88 L102.32,130.43 L102.64,128.98 L102.96,127.52 L103.29,126.07 L103.61,124.62 L103.94,123.17 L104.27,121.72 L104.61,120.27 L104.95,118.82 L105.29,117.37 L105.64,115.93 L105.99,114.48 L106.34,113.04 L106.70,111.59 L107.06,110.15 L107.43,108.71 L107.80,107.27 L108.17,105.83 L108.56,104.39 L108.95,102.95 L109.35,101.52 L109.77,100.10 L110.20,98.67 L110.63,97.25 L111.08,95.82 L111.54,94.41 L112.02,92.99 L112.51,91.59 L113.03,90.20 L113.57,88.82 L114.14,87.45 L114.73,86.08 L115.35,84.72 L116.00,83.37 L116.67,82.03 L117.38,80.72 L118.12,79.44 L118.88,78.18 L119.71,76.93 L120.58,75.71 L121.51,74.53 L122.49,73.42 L123.53,72.40 L124.67,71.44 L125.87,70.54 L127.10,69.68 L128.32,68.84 L129.57,68.02 L130.83,67.22 L132.12,66.46 L133.42,65.74 L134.75,65.07 L136.09,64.46 L137.47,63.89 L138.87,63.37 L140.28,62.91 L141.70,62.48 L143.13,62.08 L144.56,61.69 L146.01,61.32 L147.45,60.97 L148.91,60.63 L150.36,60.30 L151.82,59.98 L153.28,59.67 L154.73,59.36 L156.18,59.05 L157.64,58.75 L159.10,58.46 L160.56,58.18 L162.02,57.90 L163.48,57.63 L164.94,57.36 L166.41,57.09 L167.87,56.83 L169.34,56.58 L170.81,56.32 L172.27,56.08 L173.74,55.83 L175.21,55.58 L176.68,55.34 L178.15,55.10 L179.61,54.86 L181.08,54.62 L182.55,54.38 L184.02,54.14 L185.49,53.90 L186.96,53.66 L188.43,53.42 L189.90,53.18 L191.37,52.94 L192.84,52.71 L194.31,52.49 L195.78,52.27 L197.25,52.06 L198.73,51.85 L200.20,51.66 L201.68,51.48 L203.15,51.30 L204.63,51.14 L206.10,50.99 L207.58,50.84 L209.06,50.69 L210.54,50.54 L212.02,50.40 L213.50,50.25 L214.98,50.11 L216.46,49.97 L217.94,49.84 L219.42,49.70 L220.90,49.57 L222.38,49.44 L223.87,49.32 L225.35,49.19 L226.83,49.07 L228.32,48.95 L229.80,48.83 L231.29,48.71 L232.77,48.60 L234.25,48.49 L235.74,48.38 L237.22,48.28 L238.71,48.17 L240.20,48.07 L241.68,47.97 L243.17,47.88 L244.65,47.79 L246.14,47.70 L247.62,47.61 L249.11,47.53 L250.60,47.45 L252.08,47.37 L253.57,47.29 L255.05,47.22 L256.54,47.15 L258.02,47.08 L259.51,47.02 L260.99,46.96 L262.48,46.90 L263.96,46.84 L265.45,46.78 L266.94,46.73 L268.42,46.67 L269.91,46.62 L271.39,46.57 L272.88,46.51 L274.37,46.46 L275.85,46.41 L277.34,46.36 L278.83,46.32 L280.31,46.27 L281.80,46.22 L283.29,46.18 L284.77,46.13 L286.26,46.09 L287.75,46.05 L289.23,46.00 L290.72,45.96 L292.21,45.92 L293.70,45.88 L295.18,45.85 L296.67,45.81 L298.16,45.77 L299.65,45.73 L301.13,45.70 L302.62,45.66 L304.11,45.63 L305.59,45.59 L307.08,45.56 L308.57,45.53 L310.06,45.49 L311.55,45.46 L313.03,45.43 L314.52,45.40 L316.01,45.37 L317.49,45.34 L318.98,45.31 L320.47,45.28 L321.96,45.26 L323.44,45.23 L324.93,45.20 L326.42,45.17 L327.91,45.15 L329.39,45.12 L330.88,45.09 L332.37,45.07 L333.85,45.04 L335.34,45.02 L336.83,44.99 L338.32,44.97 L339.80,44.94 L341.29,44.92 L342.78,44.90 L344.26,44.87 L345.75,44.85 L347.24,44.83 L348.73,44.81 L350.21,44.78 L351.70,44.76 L353.19,44.74 L354.68,44.72 L356.16,44.70 L357.65,44.68 L359.14,44.67 L360.63,44.65 L362.11,44.63 L363.60,44.61 L365.09,44.60 L366.58,44.58 L368.06,44.57 L369.55,44.55 L371.04,44.54 L372.53,44.52 L374.01,44.51 L375.50,44.50" stroke="#808000" stroke-width="2" stroke-dasharray="6.3 2 1.7 2" stroke-dashoffset="9.5"/>
<path class="c" d="M78.00,254.00 L78.29,252.55 L78.58,251.11 L78.88,249.66 L79.17,248.21 L79.46,246.76 L79.75,245.31 L80.04,243.87 L80.33,242.42 L80.62,240.97 L80.91,239.52 L81.20,238.08 L81.49,236.63 L81.77,235.18 L82.06,233.73 L82.35,232.28 L82.64,230.83 L82.92,229.39 L83.21,227.94 L83.49,226.49 L83.78,225.04 L84.06,223.59 L84.34,222.14 L84.62,220.69 L84.90,219.24 L85.18,217.79 L85.46,216.34 L85.75,214.89 L86.03,213.44 L86.31,211.99 L86.60,210.54 L86.88,209.10 L87.17,207.65 L87.46,206.20 L87.75,204.75 L88.05,203.31 L88.35,201.86 L88.65,200.41 L88.95,198.97 L89.26,197.52 L89.56,196.08 L89.86,194.63 L90.16,193.19 L90.45,191.74 L90.74,190.29 L91.03,188.84 L91.32,187.40 L91.60,185.95 L91.89,184.50 L92.17,183.05 L92.45,181.60 L92.73,180.15 L93.01,178.70 L93.29,177.25 L93.58,175.80 L93.86,174.35 L94.14,172.90 L94.42,171.45 L94.70,170.00 L94.99,168.55 L95.28,167.11 L95.56,165.66 L95.85,164.21 L96.14,162.76 L96.43,161.31 L96.72,159.87 L97.01,158.42 L97.30,156.97 L97.59,155.52 L97.88,154.08 L98.18,152.63 L98.47,151.18 L98.76,149.73 L99.04,148.28 L99.33,146.83 L99.62,145.39 L99.91,143.94 L100.20,142.49 L100.49,141.04 L100.79,139.60 L101.08,138.15 L101.38,136.70 L101.68,135.26 L101.99,133.81 L102.30,132.37 L102.62,130.93 L102.93,129.49 L103.25,128.04 L103.58,126.60 L103.90,125.16 L104.23,123.72 L104.56,122.28 L104.90,120.84 L105.24,119.41 L105.59,117.97 L105.94,116.54 L106.30,115.11 L106.66,113.68 L107.03,112.25 L107.42,110.82 L107.81,109.40 L108.22,107.98 L108.63,106.56 L109.06,105.15 L109.48,103.73 L109.90,102.32 L110.32,100.90 L110.72,99.47 L111.12,98.03 L111.51,96.60 L111.92,95.17 L112.34,93.75 L112.80,92.35 L113.29,90.97 L113.83,89.62 L114.45,88.30 L115.16,87.01 L115.93,85.73 L116.74,84.48 L117.58,83.26 L118.44,82.07 L119.36,80.91 L120.32,79.79 L121.29,78.67 L122.23,77.52 L123.16,76.35 L124.11,75.21 L125.12,74.17 L126.25,73.23 L127.47,72.37 L128.73,71.61 L130.04,70.94 L131.39,70.32 L132.74,69.71 L134.08,69.08 L135.43,68.49 L136.81,67.96 L138.20,67.49 L139.60,67.05 L141.01,66.63 L142.43,66.22 L143.85,65.84 L145.28,65.46 L146.72,65.10 L148.16,64.75 L149.60,64.40 L151.04,64.05 L152.48,63.71 L153.92,63.36 L155.35,63.01 L156.79,62.67 L158.22,62.32 L159.66,61.98 L161.10,61.65 L162.54,61.32 L163.98,60.99 L165.42,60.67 L166.86,60.34 L168.30,60.02 L169.74,59.71 L171.19,59.39 L172.63,59.08 L174.07,58.77 L175.52,58.46 L176.96,58.15 L178.41,57.84 L179.85,57.53 L181.29,57.22 L182.74,56.90 L184.18,56.57 L185.62,56.24 L187.07,55.90 L188.51,55.57 L189.95,55.24 L191.40,54.91 L192.84,54.59 L194.29,54.27 L195.73,53.97 L197.18,53.67 L198.63,53.40 L200.08,53.13 L201.53,52.89 L202.99,52.67 L204.44,52.47 L205.90,52.29 L207.36,52.12 L208.82,51.95 L210.28,51.78 L211.74,51.62 L213.21,51.46 L214.67,51.31 L216.14,51.16 L217.61,51.01 L219.08,50.86 L220.55,50.72 L222.02,50.58 L223.49,50.45 L224.96,50.32 L226.43,50.19 L227.90,50.07 L229.38,49.94 L230.85,49.83 L232.33,49.71 L233.80,49.60 L235.28,49.49 L236.75,49.38 L238.23,49.27 L239.71,49.17 L241.18,49.07 L242.66,48.97 L244.14,48.88 L245.61,48.79 L247.09,48.70 L248.57,48.61 L250.04,48.52 L251.52,48.44 L252.99,48.36 L254.47,48.28 L255.95,48.20 L257.42,48.13 L258.89,48.05 L260.37,47.98 L261.84,47.91 L263.32,47.84 L264.79,47.78 L266.27,47.71 L267.74,47.64 L269.21,47.58 L270.69,47.51 L272.16,47.45 L273.64,47.39 L275.11,47.33 L276.59,47.27 L278.06,47.21 L279.54,47.15 L281.02,47.09 L282.49,47.04 L283.97,46.98 L285.44,46.93 L286.92,46.87 L288.39,46.82 L289.87,46.77 L291.35,46.72 L292.82,46.67 L294.30,46.62 L295.78,46.57 L297.25,46.53 L298.73,46.48 L300.20,46.44 L301.68,46.39 L303.16,46.35 L304.63,46.31 L306.11,46.26 L307.59,46.22 L309.06,46.18 L310.54,46.14 L312.02,46.11 L313.49,46.07 L314.97,46.03 L316.44,45.99 L317.92,45.96 L319.40,45.92 L320.87,45.89 L322.35,45.86 L323.83,45.83 L325.30,45.79 L326.78,45.76 L328.25,45.73 L329.73,45.70 L331.21,45.67 L332.68,45.64 L334.16,45.61 L335.64,45.58 L337.11,45.55 L338.59,45.52 L340.06,45.50 L341.54,45.47 L343.02,45.44 L344.49,45.42 L345.97,45.39 L347.45,45.36 L348.92,45.34 L350.40,45.31 L351.87,45.29 L353.35,45.27 L354.83,45.24 L356.30,45.22 L357.78,45.20 L359.26,45.18 L360.73,45.16 L362.21,45.14 L363.69,45.12 L365.16,45.10 L366.64,45.09 L368.12,45.07 L369.59,45.05 L371.07,45.04 L372.55,45.03 L374.02,45.01 L375.50,45.00" stroke="#008000" stroke-width="2" stroke-dasharray="6.3 2 1.7 2" stroke-dashoffset="9.5"/>
<path class="c" d="M78.00,253.50 L78.30,252.07 L78.61,250.64 L78.91,249.21 L79.21,247.78 L79.51,246.34 L79.81,244.91 L80.11,243.48 L80.41,242.05 L80.71,240.62 L81.00,239.19 L81.30,237.75 L81.60,236.32 L81.89,234.89 L82.19,233.46 L82.48,232.02 L82.77,230.59 L83.07,229.16 L83.36,227.73 L83.65,226.29 L83.94,224.86 L84.22,223.42 L84.51,221.99 L84.80,220.56 L85.08,219.12 L85.36,217.69 L85.65,216.25 L85.93,214.82 L86.22,213.38 L86.50,211.95 L86.79,210.51 L87.07,209.08 L87.36,207.65 L87.65,206.21 L87.95,204.78 L88.24,203.35 L88.54,201.91 L88.84,200.48 L89.13,199.05 L89.43,197.62 L89.73,196.19 L90.03,194.76 L90.33,193.32 L90.62,191.89 L90.91,190.46 L91.20,189.02 L91.49,187.59 L91.78,186.16 L92.07,184.72 L92.36,183.29 L92.64,181.85 L92.93,180.42 L93.21,178.99 L93.50,177.55 L93.78,176.12 L94.07,174.68 L94.35,173.25 L94.64,171.81 L94.93,170.38 L95.21,168.94 L95.50,167.51 L95.78,166.08 L96.07,164.64 L96.35,163.21 L96.64,161.77 L96.92,160.34 L97.21,158.90 L97.50,157.47 L97.79,156.04 L98.08,154.60 L98.37,153.17 L98.66,151.74 L98.95,150.30 L99.24,148.87 L99.53,147.43 L99.82,146.00 L100.11,144.57 L100.40,143.13 L100.69,141.70 L100.99,140.27 L101.29,138.83 L101.59,137.40 L101.90,135.97 L102.21,134.55 L102.52,133.12 L102.84,131.69 L103.17,130.27 L103.50,128.84 L103.84,127.42 L104.18,126.00 L104.52,124.58 L104.87,123.15 L105.23,121.74 L105.59,120.32 L105.95,118.90 L106.32,117.48 L106.69,116.07 L107.07,114.66 L107.46,113.25 L107.85,111.84 L108.23,110.43 L108.63,109.01 L109.03,107.60 L109.45,106.20 L109.88,104.81 L110.35,103.42 L110.85,102.06 L111.39,100.70 L111.96,99.35 L112.55,98.01 L113.18,96.68 L113.82,95.36 L114.48,94.06 L115.19,92.79 L115.93,91.52 L116.68,90.26 L117.39,88.98 L118.07,87.67 L118.78,86.39 L119.60,85.22 L120.61,84.16 L121.68,83.14 L122.66,82.04 L123.60,80.89 L124.56,79.80 L125.63,78.85 L126.83,78.04 L128.10,77.29 L129.39,76.56 L130.63,75.78 L131.85,74.97 L133.07,74.16 L134.32,73.41 L135.59,72.66 L136.88,71.96 L138.20,71.36 L139.54,70.83 L140.90,70.33 L142.28,69.87 L143.68,69.43 L145.08,69.01 L146.49,68.61 L147.91,68.22 L149.34,67.84 L150.76,67.46 L152.18,67.08 L153.60,66.69 L155.01,66.30 L156.41,65.89 L157.82,65.49 L159.23,65.09 L160.63,64.69 L162.04,64.30 L163.45,63.90 L164.86,63.51 L166.27,63.12 L167.68,62.73 L169.09,62.34 L170.50,61.96 L171.92,61.58 L173.33,61.21 L174.75,60.84 L176.16,60.47 L177.58,60.11 L178.99,59.75 L180.41,59.40 L181.83,59.04 L183.25,58.68 L184.67,58.31 L186.09,57.94 L187.51,57.57 L188.93,57.20 L190.36,56.84 L191.78,56.48 L193.20,56.13 L194.63,55.79 L196.06,55.46 L197.48,55.15 L198.91,54.85 L200.35,54.57 L201.78,54.31 L203.22,54.07 L204.65,53.85 L206.09,53.65 L207.53,53.46 L208.98,53.27 L210.42,53.08 L211.87,52.90 L213.31,52.72 L214.76,52.54 L216.21,52.37 L217.66,52.20 L219.12,52.04 L220.57,51.88 L222.02,51.72 L223.48,51.56 L224.94,51.41 L226.39,51.27 L227.85,51.12 L229.31,50.98 L230.77,50.85 L232.23,50.71 L233.69,50.58 L235.15,50.46 L236.61,50.33 L238.07,50.21 L239.54,50.10 L241.00,49.98 L242.46,49.87 L243.92,49.77 L245.38,49.66 L246.85,49.56 L248.31,49.46 L249.77,49.37 L251.23,49.28 L252.70,49.19 L254.16,49.11 L255.62,49.03 L257.08,48.95 L258.54,48.87 L260.00,48.80 L261.46,48.73 L262.92,48.66 L264.38,48.59 L265.84,48.53 L267.30,48.46 L268.76,48.40 L270.22,48.34 L271.68,48.27 L273.14,48.21 L274.60,48.15 L276.06,48.10 L277.52,48.04 L278.98,47.98 L280.44,47.93 L281.91,47.87 L283.37,47.82 L284.83,47.77 L286.29,47.72 L287.75,47.67 L289.22,47.62 L290.68,47.57 L292.14,47.52 L293.60,47.48 L295.06,47.43 L296.53,47.39 L297.99,47.35 L299.45,47.30 L300.92,47.26 L302.38,47.22 L303.84,47.18 L305.30,47.14 L306.77,47.11 L308.23,47.07 L309.69,47.03 L311.15,47.00 L312.62,46.96 L314.08,46.93 L315.54,46.90 L317.00,46.86 L318.47,46.83 L319.93,46.80 L321.39,46.77 L322.85,46.74 L324.32,46.71 L325.78,46.69 L327.24,46.66 L328.70,46.63 L330.16,46.60 L331.63,46.58 L333.09,46.55 L334.55,46.52 L336.01,46.50 L337.48,46.47 L338.94,46.45 L340.40,46.42 L341.86,46.40 L343.32,46.37 L344.79,46.35 L346.25,46.33 L347.71,46.30 L349.17,46.28 L350.64,46.26 L352.10,46.24 L353.56,46.22 L355.02,46.20 L356.49,46.18 L357.95,46.16 L359.41,46.14 L360.87,46.13 L362.34,46.11 L363.80,46.10 L365.26,46.08 L366.72,46.07 L368.19,46.05 L369.65,46.04 L371.11,46.03 L372.57,46.02 L374.04,46.01 L375.50,46.00" stroke="#0000ff" stroke-width="2" stroke-dasharray="6.3 2 1.7 2" stroke-dashoffset="9.8"/>
</g>
<g stroke="#000" fill="none"><path d="M77.47,39.5H376.0" stroke-width="1.3"/><path d="M375.35,39.5V281.75" stroke-width="1.3"/><path d="M77.47,281.15H376.0" stroke-width="1.2"/><path d="M78.0,38.85V281.75" stroke-width="1.07"/></g>
<path d="M107.73,281.0v-3M107.73,39.5v3M137.47,281.0v-5M137.47,39.5v5M167.21,281.0v-3M167.21,39.5v3M196.94,281.0v-5M196.94,39.5v5M226.68,281.0v-3M226.68,39.5v3M256.41,281.0v-5M256.41,39.5v5M286.15,281.0v-3M286.15,39.5v3M315.88,281.0v-5M315.88,39.5v5M345.62,281.0v-3M345.62,39.5v3M78.0,256.85h3M375.35,256.85h-3M78.0,232.70h5M375.35,232.70h-5M78.0,208.55h3M375.35,208.55h-3M78.0,184.40h5M375.35,184.40h-5M78.0,160.25h3M375.35,160.25h-3M78.0,136.10h5M375.35,136.10h-5M78.0,111.95h3M375.35,111.95h-3M78.0,87.80h5M375.35,87.80h-5M78.0,63.65h3M375.35,63.65h-3" stroke="#000" stroke-width="1.3" fill="none"/>
<text class="t" transform="translate(78.00,298.2) scale(1,1.07)" text-anchor="middle">0</text>
<text class="t" transform="translate(137.47,298.2) scale(1,1.07)" text-anchor="middle">2</text>
<text class="t" transform="translate(196.94,298.2) scale(1,1.07)" text-anchor="middle">4</text>
<text class="t" transform="translate(256.41,298.2) scale(1,1.07)" text-anchor="middle">6</text>
<text class="t" transform="translate(315.88,298.2) scale(1,1.07)" text-anchor="middle">8</text>
<text class="t" transform="translate(375.35,298.2) scale(1,1.07)" text-anchor="middle">10</text>
<text class="t" transform="translate(73.2,285.60) scale(1,1.1)" text-anchor="end">0.0</text>
<text class="t" transform="translate(73.2,237.30) scale(1,1.1)" text-anchor="end">0.2</text>
<text class="t" transform="translate(73.2,189.00) scale(1,1.1)" text-anchor="end">0.4</text>
<text class="t" transform="translate(73.2,140.70) scale(1,1.1)" text-anchor="end">0.6</text>
<text class="t" transform="translate(73.2,92.40) scale(1,1.1)" text-anchor="end">0.8</text>
<text class="t" transform="translate(73.2,44.10) scale(1,1.1)" text-anchor="end">1.0</text>
<text class="t" x="226.7" y="322.4" text-anchor="middle">z/d</text>
<g transform="translate(37.7,198.7) rotate(-90)"><text class="t" x="0" y="0">F<tspan font-size="9px" dy="6.3">total</tspan><tspan dy="-6.3" letter-spacing="0.15">(z)/F</tspan><tspan font-size="9px" dy="-8" dx="0.5">bulk</tspan></text><text x="57.6" y="6.3" font-size="9px">total</text></g>
<path d="M175.5,104.0V242.5H363.0" stroke="#3a3a3a" stroke-width="1" fill="none"/>
<path d="M196.50,242.5v-3.0M217.25,242.5v-1.6M238.00,242.5v-3.0M258.75,242.5v-1.6M279.50,242.5v-3.0M300.25,242.5v-1.6M321.00,242.5v-3.0M341.75,242.5v-1.6M362.50,242.5v-3.0M175.5,242.50h3.5M175.5,225.25h1.7M175.5,208.00h3.5M175.5,190.75h1.7M175.5,173.50h3.5M175.5,156.25h1.7M175.5,139.00h3.5M175.5,121.75h1.7M175.5,104.50h3.5" stroke="#3a3a3a" stroke-width="1" fill="none"/>
<g clip-path="url(#ci)">
<path class="c" d="M175.20,117.00 L175.20,117.89 L175.20,118.79 L175.20,119.68 L175.20,120.58 L175.20,121.47 L175.20,122.36 L175.21,123.26 L175.21,124.15 L175.21,125.05 L175.21,125.94 L175.22,126.83 L175.22,127.73 L175.22,128.62 L175.23,129.52 L175.23,130.41 L175.23,131.30 L175.24,132.20 L175.24,133.09 L175.25,133.99 L175.25,134.88 L175.26,135.77 L175.26,136.67 L175.27,137.56 L175.27,138.46 L175.28,139.35 L175.28,140.24 L175.29,141.14 L175.29,142.03 L175.30,142.92 L175.31,143.82 L175.31,144.71 L175.32,145.61 L175.33,146.50 L175.33,147.39 L175.34,148.29 L175.35,149.18 L175.36,150.08 L175.36,150.97 L175.37,151.86 L175.38,152.76 L175.39,153.65 L175.40,154.54 L175.40,155.44 L175.41,156.33 L175.42,157.23 L175.43,158.12 L175.44,159.02 L175.45,159.92 L175.46,160.82 L175.48,161.71 L175.49,162.61 L175.50,163.51 L175.52,164.40 L175.54,165.30 L175.56,166.19 L175.58,167.09 L175.61,167.98 L175.64,168.87 L175.67,169.76 L175.70,170.65 L175.73,171.54 L175.77,172.43 L175.82,173.31 L175.94,174.19 L176.12,175.07 L176.33,175.94 L176.54,176.82 L176.72,177.69 L176.87,178.58 L177.01,179.46 L177.15,180.35 L177.28,181.23 L177.42,182.12 L177.56,183.01 L177.70,183.89 L177.86,184.77 L178.03,185.64 L178.22,186.50 L178.44,187.37 L178.68,188.25 L178.94,189.12 L179.23,189.98 L179.54,190.82 L179.88,191.63 L180.25,192.41 L180.69,193.17 L181.19,193.91 L181.74,194.63 L182.32,195.34 L182.92,196.02 L183.52,196.69 L184.13,197.34 L184.74,197.99 L185.38,198.62 L186.04,199.24 L186.72,199.84 L187.41,200.42 L188.12,200.96 L188.84,201.46 L189.59,201.93 L190.35,202.37 L191.14,202.79 L191.95,203.19 L192.76,203.58 L193.58,203.96 L194.40,204.33 L195.22,204.71 L196.02,205.09 L196.84,205.46 L197.65,205.84 L198.46,206.21 L199.28,206.58 L200.10,206.94 L200.92,207.29 L201.75,207.63 L202.58,207.96 L203.41,208.28 L204.25,208.59 L205.09,208.88 L205.94,209.17 L206.78,209.44 L207.64,209.71 L208.49,209.97 L209.35,210.23 L210.21,210.48 L211.07,210.73 L211.93,210.97 L212.79,211.22 L213.65,211.47 L214.51,211.72 L215.37,211.97 L216.23,212.22 L217.09,212.47 L217.95,212.71 L218.81,212.95 L219.67,213.19 L220.53,213.42 L221.40,213.65 L222.26,213.87 L223.13,214.08 L224.00,214.29 L224.87,214.50 L225.73,214.71 L226.60,214.92 L227.47,215.12 L228.34,215.33 L229.21,215.53 L230.08,215.73 L230.96,215.93 L231.83,216.12 L232.70,216.32 L233.57,216.51 L234.45,216.71 L235.32,216.90 L236.19,217.09 L237.07,217.28 L237.94,217.47 L238.82,217.65 L239.69,217.84 L240.57,218.02 L241.44,218.20 L242.32,218.39 L243.19,218.57 L244.07,218.75 L244.95,218.93 L245.82,219.11 L246.70,219.28 L247.58,219.46 L248.45,219.64 L249.33,219.81 L250.21,219.99 L251.09,220.16 L251.96,220.33 L252.84,220.51 L253.72,220.68 L254.60,220.85 L255.47,221.02 L256.35,221.19 L257.23,221.36 L258.11,221.53 L258.98,221.70 L259.86,221.87 L260.74,222.04 L261.62,222.21 L262.49,222.38 L263.37,222.55 L264.25,222.72 L265.13,222.88 L266.01,223.05 L266.88,223.22 L267.76,223.38 L268.64,223.55 L269.52,223.71 L270.40,223.87 L271.28,224.04 L272.16,224.20 L273.04,224.36 L273.92,224.52 L274.80,224.68 L275.68,224.84 L276.56,225.00 L277.44,225.16 L278.32,225.32 L279.20,225.47 L280.08,225.63 L280.96,225.78 L281.84,225.93 L282.72,226.09 L283.60,226.24 L284.48,226.39 L285.37,226.54 L286.25,226.69 L287.13,226.84 L288.01,226.98 L288.89,227.13 L289.77,227.27 L290.66,227.41 L291.54,227.56 L292.42,227.70 L293.30,227.84 L294.19,227.97 L295.07,228.11 L295.95,228.25 L296.84,228.38 L297.72,228.52 L298.60,228.65 L299.48,228.79 L300.37,228.92 L301.25,229.06 L302.13,229.19 L303.02,229.32 L303.90,229.46 L304.79,229.59 L305.67,229.72 L306.55,229.86 L307.44,229.99 L308.32,230.12 L309.20,230.25 L310.09,230.38 L310.97,230.51 L311.86,230.64 L312.74,230.77 L313.63,230.90 L314.51,231.03 L315.39,231.15 L316.28,231.28 L317.16,231.41 L318.05,231.53 L318.93,231.66 L319.82,231.79 L320.70,231.91 L321.59,232.03 L322.47,232.16 L323.36,232.28 L324.24,232.41 L325.13,232.53 L326.02,232.65 L326.90,232.77 L327.79,232.89 L328.67,233.01 L329.56,233.13 L330.45,233.25 L331.33,233.37 L332.22,233.49 L333.10,233.60 L333.99,233.72 L334.88,233.84 L335.76,233.95 L336.65,234.07 L337.54,234.18 L338.42,234.30 L339.31,234.41 L340.20,234.52 L341.09,234.63 L341.97,234.75 L342.86,234.86 L343.75,234.97 L344.64,235.07 L345.52,235.18 L346.41,235.29 L347.30,235.40 L348.19,235.50 L349.07,235.61 L349.96,235.72 L350.85,235.82 L351.74,235.92 L352.63,236.03 L353.52,236.13 L354.41,236.23 L355.29,236.33 L356.18,236.43 L357.07,236.53 L357.96,236.63 L358.85,236.72 L359.74,236.82 L360.63,236.92 L361.52,237.01 L362.41,237.11 L363.30,237.20" stroke="#ff0000" stroke-width="1.9"/>
<path class="c" d="M175.20,117.00 L175.20,117.86 L175.20,118.72 L175.20,119.58 L175.20,120.43 L175.21,121.29 L175.21,122.15 L175.21,123.01 L175.22,123.87 L175.22,124.72 L175.23,125.58 L175.23,126.44 L175.24,127.30 L175.24,128.16 L175.25,129.02 L175.26,129.87 L175.26,130.73 L175.27,131.59 L175.28,132.45 L175.29,133.31 L175.30,134.16 L175.30,135.02 L175.31,135.88 L175.32,136.74 L175.33,137.60 L175.34,138.46 L175.35,139.31 L175.36,140.17 L175.37,141.03 L175.39,141.89 L175.40,142.75 L175.41,143.60 L175.42,144.46 L175.43,145.32 L175.44,146.18 L175.46,147.04 L175.47,147.89 L175.48,148.75 L175.49,149.61 L175.51,150.47 L175.52,151.33 L175.53,152.19 L175.55,153.05 L175.56,153.91 L175.58,154.77 L175.59,155.63 L175.61,156.50 L175.63,157.36 L175.65,158.22 L175.68,159.08 L175.70,159.94 L175.73,160.80 L175.76,161.66 L175.80,162.51 L175.83,163.37 L175.87,164.22 L175.92,165.07 L175.97,165.92 L176.02,166.76 L176.12,167.60 L176.27,168.45 L176.46,169.29 L176.69,170.13 L176.93,170.96 L177.18,171.79 L177.44,172.61 L177.70,173.42 L178.01,174.21 L178.34,175.01 L178.69,175.79 L179.05,176.58 L179.40,177.37 L179.74,178.16 L180.06,178.96 L180.38,179.78 L180.71,180.59 L181.04,181.40 L181.38,182.19 L181.74,182.97 L182.13,183.71 L182.55,184.42 L183.01,185.11 L183.52,185.78 L184.07,186.45 L184.65,187.10 L185.26,187.73 L185.90,188.35 L186.55,188.94 L187.22,189.51 L187.89,190.05 L188.57,190.56 L189.24,191.04 L189.93,191.50 L190.64,191.95 L191.37,192.38 L192.11,192.81 L192.87,193.21 L193.63,193.61 L194.41,194.00 L195.20,194.38 L195.99,194.74 L196.78,195.10 L197.58,195.45 L198.38,195.80 L199.18,196.14 L199.98,196.47 L200.78,196.80 L201.57,197.13 L202.36,197.45 L203.16,197.76 L203.96,198.06 L204.76,198.36 L205.57,198.65 L206.38,198.94 L207.19,199.22 L208.01,199.49 L208.82,199.77 L209.64,200.04 L210.46,200.31 L211.27,200.57 L212.09,200.84 L212.91,201.11 L213.72,201.38 L214.54,201.65 L215.35,201.92 L216.17,202.19 L216.98,202.47 L217.80,202.74 L218.62,203.00 L219.43,203.26 L220.25,203.51 L221.08,203.75 L221.90,203.97 L222.73,204.19 L223.56,204.40 L224.39,204.61 L225.22,204.82 L226.05,205.02 L226.88,205.22 L227.72,205.41 L228.55,205.61 L229.38,205.80 L230.22,205.99 L231.06,206.17 L231.90,206.36 L232.73,206.54 L233.57,206.72 L234.41,206.89 L235.25,207.07 L236.09,207.24 L236.93,207.41 L237.78,207.58 L238.62,207.75 L239.46,207.92 L240.30,208.08 L241.15,208.25 L241.99,208.41 L242.84,208.57 L243.68,208.74 L244.53,208.90 L245.37,209.05 L246.22,209.21 L247.06,209.37 L247.91,209.53 L248.75,209.69 L249.60,209.84 L250.44,210.00 L251.29,210.16 L252.13,210.32 L252.98,210.47 L253.82,210.63 L254.67,210.79 L255.51,210.95 L256.36,211.11 L257.20,211.26 L258.04,211.42 L258.89,211.59 L259.73,211.75 L260.57,211.91 L261.41,212.07 L262.26,212.24 L263.10,212.40 L263.94,212.57 L264.78,212.73 L265.63,212.89 L266.47,213.06 L267.31,213.22 L268.15,213.39 L269.00,213.55 L269.84,213.71 L270.68,213.88 L271.53,214.04 L272.37,214.20 L273.21,214.36 L274.06,214.53 L274.90,214.69 L275.74,214.85 L276.59,215.01 L277.43,215.17 L278.27,215.33 L279.12,215.48 L279.96,215.64 L280.81,215.79 L281.65,215.95 L282.50,216.10 L283.34,216.25 L284.18,216.40 L285.03,216.55 L285.87,216.70 L286.72,216.85 L287.57,217.00 L288.41,217.14 L289.26,217.28 L290.10,217.42 L290.95,217.56 L291.80,217.70 L292.64,217.83 L293.49,217.97 L294.34,218.10 L295.18,218.23 L296.03,218.36 L296.88,218.49 L297.73,218.61 L298.57,218.74 L299.42,218.87 L300.27,219.00 L301.12,219.12 L301.97,219.25 L302.81,219.37 L303.66,219.50 L304.51,219.63 L305.36,219.75 L306.21,219.87 L307.06,220.00 L307.90,220.12 L308.75,220.24 L309.60,220.37 L310.45,220.49 L311.30,220.61 L312.15,220.73 L313.00,220.85 L313.85,220.97 L314.70,221.09 L315.55,221.21 L316.40,221.33 L317.25,221.45 L318.10,221.57 L318.95,221.68 L319.80,221.80 L320.65,221.92 L321.50,222.03 L322.35,222.15 L323.20,222.26 L324.05,222.37 L324.90,222.49 L325.75,222.60 L326.60,222.71 L327.45,222.82 L328.30,222.93 L329.15,223.04 L330.01,223.15 L330.86,223.26 L331.71,223.37 L332.56,223.47 L333.41,223.58 L334.26,223.69 L335.12,223.79 L335.97,223.90 L336.82,224.00 L337.67,224.10 L338.52,224.20 L339.38,224.31 L340.23,224.41 L341.08,224.51 L341.94,224.60 L342.79,224.70 L343.64,224.80 L344.50,224.90 L345.35,224.99 L346.20,225.09 L347.06,225.18 L347.91,225.28 L348.76,225.37 L349.62,225.46 L350.47,225.55 L351.33,225.64 L352.18,225.73 L353.03,225.82 L353.89,225.90 L354.74,225.99 L355.60,226.08 L356.45,226.16 L357.31,226.24 L358.17,226.33 L359.02,226.41 L359.88,226.49 L360.73,226.57 L361.59,226.65 L362.44,226.72 L363.30,226.80" stroke="#ff8000" stroke-width="1.9"/>
<path class="c" d="M175.20,117.00 L175.20,117.83 L175.20,118.65 L175.20,119.48 L175.21,120.30 L175.21,121.13 L175.21,121.95 L175.22,122.77 L175.23,123.60 L175.23,124.42 L175.24,125.25 L175.25,126.07 L175.26,126.90 L175.27,127.72 L175.28,128.54 L175.29,129.37 L175.30,130.19 L175.31,131.01 L175.32,131.84 L175.34,132.66 L175.35,133.48 L175.36,134.31 L175.38,135.13 L175.39,135.95 L175.41,136.78 L175.43,137.60 L175.44,138.42 L175.46,139.24 L175.48,140.06 L175.50,140.89 L175.52,141.71 L175.54,142.53 L175.56,143.35 L175.58,144.18 L175.60,145.00 L175.62,145.82 L175.65,146.65 L175.68,147.47 L175.71,148.31 L175.75,149.14 L175.80,149.97 L175.84,150.80 L175.89,151.64 L175.95,152.47 L176.01,153.30 L176.08,154.14 L176.15,154.97 L176.22,155.79 L176.30,156.62 L176.39,157.44 L176.48,158.26 L176.58,159.08 L176.68,159.89 L176.79,160.70 L176.90,161.50 L177.02,162.30 L177.15,163.09 L177.28,163.87 L177.45,164.65 L177.70,165.42 L178.02,166.19 L178.39,166.94 L178.78,167.69 L179.18,168.42 L179.58,169.14 L179.99,169.85 L180.43,170.54 L180.90,171.22 L181.39,171.90 L181.88,172.56 L182.38,173.22 L182.88,173.87 L183.40,174.51 L183.92,175.15 L184.46,175.78 L185.01,176.39 L185.58,176.98 L186.16,177.56 L186.76,178.12 L187.38,178.68 L188.01,179.21 L188.65,179.73 L189.30,180.23 L189.96,180.71 L190.64,181.18 L191.32,181.64 L192.01,182.09 L192.71,182.53 L193.42,182.97 L194.13,183.39 L194.84,183.80 L195.56,184.20 L196.28,184.60 L197.01,184.98 L197.74,185.36 L198.48,185.73 L199.22,186.09 L199.97,186.44 L200.72,186.78 L201.47,187.10 L202.23,187.42 L202.99,187.74 L203.76,188.04 L204.53,188.34 L205.30,188.63 L206.08,188.91 L206.85,189.18 L207.63,189.44 L208.41,189.70 L209.20,189.95 L209.99,190.19 L210.78,190.42 L211.57,190.65 L212.36,190.87 L213.16,191.09 L213.95,191.31 L214.75,191.53 L215.54,191.75 L216.33,191.96 L217.13,192.17 L217.93,192.38 L218.72,192.59 L219.52,192.79 L220.32,192.99 L221.12,193.19 L221.92,193.38 L222.72,193.57 L223.52,193.76 L224.33,193.94 L225.13,194.13 L225.93,194.31 L226.73,194.50 L227.54,194.68 L228.34,194.86 L229.14,195.04 L229.95,195.22 L230.75,195.39 L231.56,195.57 L232.36,195.75 L233.16,195.92 L233.97,196.10 L234.77,196.27 L235.58,196.44 L236.39,196.61 L237.19,196.78 L238.00,196.95 L238.80,197.12 L239.61,197.29 L240.42,197.46 L241.22,197.62 L242.03,197.79 L242.84,197.95 L243.65,198.12 L244.45,198.28 L245.26,198.44 L246.07,198.61 L246.88,198.77 L247.69,198.93 L248.49,199.09 L249.30,199.25 L250.11,199.41 L250.92,199.56 L251.73,199.72 L252.54,199.88 L253.35,200.03 L254.15,200.19 L254.96,200.35 L255.77,200.50 L256.58,200.65 L257.39,200.81 L258.20,200.96 L259.01,201.11 L259.82,201.27 L260.63,201.42 L261.43,201.57 L262.24,201.72 L263.05,201.87 L263.86,202.02 L264.67,202.17 L265.48,202.32 L266.29,202.47 L267.10,202.61 L267.91,202.76 L268.72,202.91 L269.53,203.05 L270.35,203.20 L271.16,203.35 L271.97,203.49 L272.78,203.63 L273.59,203.78 L274.40,203.92 L275.21,204.06 L276.02,204.20 L276.84,204.35 L277.65,204.49 L278.46,204.62 L279.27,204.76 L280.08,204.90 L280.90,205.04 L281.71,205.18 L282.52,205.31 L283.33,205.45 L284.15,205.58 L284.96,205.72 L285.77,205.85 L286.58,205.98 L287.40,206.11 L288.21,206.24 L289.02,206.37 L289.84,206.50 L290.65,206.63 L291.46,206.76 L292.28,206.88 L293.09,207.01 L293.90,207.13 L294.72,207.26 L295.53,207.38 L296.35,207.50 L297.16,207.63 L297.97,207.75 L298.79,207.87 L299.60,207.99 L300.42,208.11 L301.23,208.23 L302.04,208.36 L302.86,208.48 L303.67,208.60 L304.49,208.72 L305.30,208.84 L306.12,208.96 L306.93,209.07 L307.75,209.19 L308.56,209.31 L309.37,209.43 L310.19,209.55 L311.00,209.67 L311.82,209.78 L312.63,209.90 L313.45,210.02 L314.26,210.13 L315.08,210.25 L315.89,210.36 L316.71,210.48 L317.53,210.59 L318.34,210.71 L319.16,210.82 L319.97,210.94 L320.79,211.05 L321.60,211.16 L322.42,211.27 L323.23,211.39 L324.05,211.50 L324.87,211.61 L325.68,211.72 L326.50,211.83 L327.32,211.94 L328.13,212.05 L328.95,212.16 L329.76,212.27 L330.58,212.38 L331.40,212.49 L332.21,212.59 L333.03,212.70 L333.85,212.81 L334.66,212.91 L335.48,213.02 L336.30,213.12 L337.11,213.23 L337.93,213.33 L338.75,213.44 L339.57,213.54 L340.38,213.64 L341.20,213.74 L342.02,213.85 L342.84,213.95 L343.65,214.05 L344.47,214.15 L345.29,214.25 L346.11,214.35 L346.92,214.45 L347.74,214.54 L348.56,214.64 L349.38,214.74 L350.20,214.83 L351.02,214.93 L351.83,215.03 L352.65,215.12 L353.47,215.22 L354.29,215.31 L355.11,215.40 L355.93,215.49 L356.75,215.59 L357.56,215.68 L358.38,215.77 L359.20,215.86 L360.02,215.95 L360.84,216.04 L361.66,216.13 L362.48,216.21 L363.30,216.30" stroke="#808000" stroke-width="1.9"/>
<path class="c" d="M175.20,117.00 L175.20,117.79 L175.21,118.59 L175.21,119.38 L175.22,120.18 L175.23,120.97 L175.25,121.77 L175.26,122.56 L175.28,123.35 L175.30,124.15 L175.32,124.94 L175.35,125.73 L175.37,126.53 L175.40,127.32 L175.43,128.11 L175.45,128.91 L175.48,129.70 L175.51,130.49 L175.55,131.28 L175.58,132.08 L175.61,132.87 L175.64,133.66 L175.68,134.45 L175.71,135.25 L175.75,136.04 L175.78,136.83 L175.82,137.63 L175.87,138.42 L175.91,139.22 L175.96,140.02 L176.01,140.82 L176.06,141.62 L176.12,142.41 L176.18,143.21 L176.24,144.01 L176.31,144.80 L176.38,145.60 L176.46,146.39 L176.54,147.18 L176.62,147.97 L176.71,148.76 L176.80,149.55 L176.89,150.33 L177.00,151.11 L177.10,151.89 L177.21,152.67 L177.33,153.44 L177.45,154.21 L177.62,154.97 L177.82,155.74 L178.06,156.50 L178.32,157.26 L178.60,158.01 L178.90,158.76 L179.20,159.49 L179.51,160.22 L179.82,160.95 L180.15,161.69 L180.49,162.43 L180.86,163.15 L181.25,163.86 L181.65,164.55 L182.08,165.20 L182.53,165.81 L183.02,166.39 L183.55,166.95 L184.12,167.48 L184.73,168.00 L185.36,168.51 L186.02,168.99 L186.69,169.46 L187.36,169.92 L188.04,170.36 L188.71,170.78 L189.38,171.19 L190.06,171.59 L190.76,171.96 L191.47,172.33 L192.18,172.68 L192.90,173.02 L193.62,173.36 L194.35,173.70 L195.07,174.04 L195.79,174.37 L196.51,174.70 L197.23,175.03 L197.96,175.35 L198.69,175.67 L199.42,175.98 L200.15,176.29 L200.88,176.59 L201.61,176.89 L202.35,177.20 L203.08,177.50 L203.82,177.80 L204.55,178.11 L205.29,178.41 L206.03,178.71 L206.76,179.01 L207.50,179.31 L208.24,179.61 L208.98,179.91 L209.72,180.20 L210.46,180.50 L211.20,180.79 L211.94,181.07 L212.69,181.36 L213.43,181.64 L214.18,181.91 L214.92,182.19 L215.67,182.45 L216.42,182.72 L217.17,182.98 L217.92,183.23 L218.67,183.48 L219.42,183.72 L220.17,183.96 L220.93,184.19 L221.68,184.41 L222.44,184.63 L223.20,184.84 L223.96,185.05 L224.72,185.26 L225.48,185.47 L226.25,185.67 L227.01,185.87 L227.78,186.07 L228.54,186.26 L229.31,186.46 L230.08,186.65 L230.85,186.84 L231.62,187.03 L232.39,187.21 L233.16,187.40 L233.93,187.58 L234.71,187.76 L235.48,187.94 L236.26,188.11 L237.03,188.29 L237.81,188.46 L238.58,188.63 L239.36,188.80 L240.14,188.97 L240.92,189.14 L241.70,189.30 L242.47,189.46 L243.25,189.63 L244.03,189.79 L244.81,189.95 L245.59,190.11 L246.37,190.26 L247.15,190.42 L247.94,190.58 L248.72,190.73 L249.50,190.89 L250.28,191.04 L251.06,191.19 L251.84,191.34 L252.62,191.49 L253.40,191.65 L254.18,191.79 L254.96,191.94 L255.75,192.09 L256.53,192.24 L257.31,192.39 L258.09,192.54 L258.87,192.69 L259.65,192.83 L260.42,192.98 L261.20,193.13 L261.98,193.27 L262.76,193.42 L263.54,193.56 L264.32,193.70 L265.10,193.84 L265.88,193.98 L266.67,194.12 L267.45,194.26 L268.23,194.40 L269.01,194.54 L269.79,194.67 L270.57,194.81 L271.36,194.94 L272.14,195.07 L272.92,195.21 L273.70,195.34 L274.49,195.47 L275.27,195.60 L276.05,195.73 L276.84,195.86 L277.62,195.99 L278.40,196.12 L279.19,196.24 L279.97,196.37 L280.75,196.50 L281.54,196.62 L282.32,196.75 L283.11,196.87 L283.89,197.00 L284.68,197.12 L285.46,197.24 L286.24,197.36 L287.03,197.49 L287.81,197.61 L288.60,197.73 L289.38,197.85 L290.17,197.97 L290.95,198.09 L291.74,198.21 L292.52,198.33 L293.31,198.44 L294.09,198.56 L294.87,198.68 L295.66,198.80 L296.44,198.92 L297.23,199.03 L298.01,199.15 L298.80,199.27 L299.58,199.39 L300.37,199.50 L301.15,199.62 L301.94,199.73 L302.72,199.85 L303.51,199.97 L304.29,200.08 L305.08,200.20 L305.86,200.31 L306.65,200.43 L307.43,200.54 L308.22,200.66 L309.00,200.77 L309.79,200.88 L310.57,201.00 L311.36,201.11 L312.14,201.22 L312.93,201.34 L313.71,201.45 L314.50,201.56 L315.29,201.68 L316.07,201.79 L316.86,201.90 L317.64,202.01 L318.43,202.12 L319.21,202.23 L320.00,202.34 L320.79,202.45 L321.57,202.56 L322.36,202.67 L323.14,202.78 L323.93,202.89 L324.72,203.00 L325.50,203.11 L326.29,203.22 L327.07,203.32 L327.86,203.43 L328.65,203.54 L329.43,203.65 L330.22,203.75 L331.01,203.86 L331.79,203.96 L332.58,204.07 L333.37,204.18 L334.15,204.28 L334.94,204.38 L335.73,204.49 L336.51,204.59 L337.30,204.70 L338.09,204.80 L338.87,204.90 L339.66,205.00 L340.45,205.11 L341.24,205.21 L342.02,205.31 L342.81,205.41 L343.60,205.51 L344.38,205.61 L345.17,205.71 L345.96,205.81 L346.75,205.91 L347.53,206.01 L348.32,206.11 L349.11,206.21 L349.90,206.30 L350.69,206.40 L351.47,206.50 L352.26,206.59 L353.05,206.69 L353.84,206.79 L354.63,206.88 L355.41,206.98 L356.20,207.07 L356.99,207.16 L357.78,207.26 L358.57,207.35 L359.36,207.44 L360.15,207.54 L360.93,207.63 L361.72,207.72 L362.51,207.81 L363.30,207.90" stroke="#008000" stroke-width="1.9"/>
<path class="c" d="M175.20,116.80 L175.23,117.57 L175.27,118.34 L175.31,119.11 L175.35,119.88 L175.40,120.64 L175.46,121.41 L175.51,122.18 L175.58,122.94 L175.65,123.71 L175.73,124.48 L175.81,125.24 L175.90,126.01 L175.98,126.77 L176.05,127.54 L176.13,128.30 L176.20,129.07 L176.28,129.84 L176.35,130.60 L176.43,131.37 L176.51,132.13 L176.58,132.90 L176.66,133.67 L176.74,134.43 L176.82,135.20 L176.91,135.96 L176.99,136.73 L177.08,137.49 L177.17,138.26 L177.26,139.02 L177.35,139.79 L177.44,140.55 L177.52,141.31 L177.61,142.08 L177.69,142.85 L177.76,143.62 L177.83,144.39 L177.90,145.15 L177.98,145.92 L178.07,146.68 L178.18,147.44 L178.30,148.19 L178.46,148.95 L178.65,149.70 L178.85,150.45 L179.09,151.20 L179.34,151.94 L179.60,152.66 L179.88,153.37 L180.17,154.06 L180.49,154.75 L180.86,155.43 L181.25,156.10 L181.68,156.76 L182.13,157.41 L182.59,158.04 L183.08,158.65 L183.57,159.23 L184.07,159.78 L184.59,160.32 L185.14,160.85 L185.72,161.36 L186.32,161.86 L186.93,162.34 L187.56,162.81 L188.20,163.27 L188.84,163.71 L189.48,164.14 L190.13,164.55 L190.77,164.96 L191.42,165.35 L192.09,165.74 L192.76,166.12 L193.43,166.49 L194.12,166.85 L194.80,167.20 L195.50,167.55 L196.20,167.89 L196.90,168.22 L197.60,168.54 L198.31,168.86 L199.02,169.16 L199.72,169.46 L200.43,169.75 L201.14,170.03 L201.86,170.30 L202.58,170.57 L203.30,170.82 L204.03,171.07 L204.76,171.31 L205.50,171.55 L206.23,171.78 L206.97,172.01 L207.71,172.25 L208.44,172.48 L209.18,172.71 L209.91,172.94 L210.65,173.18 L211.38,173.43 L212.11,173.67 L212.84,173.92 L213.57,174.16 L214.30,174.41 L215.03,174.65 L215.75,174.90 L216.48,175.14 L217.21,175.39 L217.94,175.64 L218.67,175.89 L219.40,176.15 L220.12,176.40 L220.85,176.66 L221.57,176.94 L222.28,177.22 L223.00,177.49 L223.72,177.77 L224.45,178.02 L225.18,178.26 L225.91,178.48 L226.64,178.70 L227.38,178.93 L228.11,179.15 L228.85,179.36 L229.59,179.58 L230.33,179.79 L231.07,180.00 L231.81,180.21 L232.55,180.42 L233.29,180.62 L234.03,180.83 L234.78,181.03 L235.52,181.23 L236.26,181.43 L237.01,181.62 L237.76,181.81 L238.50,182.01 L239.25,182.20 L240.00,182.38 L240.75,182.57 L241.50,182.75 L242.25,182.94 L243.00,183.12 L243.75,183.29 L244.50,183.47 L245.25,183.65 L246.01,183.82 L246.76,183.99 L247.51,184.16 L248.26,184.33 L249.02,184.49 L249.77,184.65 L250.53,184.82 L251.28,184.98 L252.04,185.13 L252.79,185.29 L253.54,185.45 L254.30,185.60 L255.05,185.75 L255.81,185.90 L256.56,186.05 L257.32,186.19 L258.07,186.34 L258.83,186.48 L259.58,186.62 L260.34,186.76 L261.09,186.90 L261.85,187.04 L262.60,187.17 L263.36,187.30 L264.12,187.43 L264.88,187.56 L265.63,187.69 L266.39,187.81 L267.15,187.94 L267.91,188.06 L268.67,188.18 L269.43,188.30 L270.19,188.42 L270.95,188.53 L271.71,188.65 L272.47,188.76 L273.23,188.88 L274.00,188.99 L274.76,189.10 L275.52,189.21 L276.28,189.32 L277.04,189.43 L277.81,189.54 L278.57,189.65 L279.33,189.76 L280.10,189.86 L280.86,189.97 L281.62,190.07 L282.39,190.18 L283.15,190.28 L283.91,190.39 L284.68,190.49 L285.44,190.60 L286.20,190.70 L286.97,190.80 L287.73,190.91 L288.50,191.01 L289.26,191.11 L290.02,191.22 L290.79,191.32 L291.55,191.42 L292.31,191.53 L293.07,191.63 L293.84,191.74 L294.60,191.84 L295.36,191.95 L296.12,192.06 L296.89,192.16 L297.65,192.27 L298.41,192.37 L299.17,192.48 L299.93,192.58 L300.70,192.69 L301.46,192.79 L302.22,192.90 L302.98,193.00 L303.75,193.11 L304.51,193.21 L305.27,193.32 L306.03,193.42 L306.80,193.52 L307.56,193.63 L308.32,193.73 L309.08,193.84 L309.85,193.94 L310.61,194.04 L311.37,194.15 L312.14,194.25 L312.90,194.35 L313.66,194.45 L314.42,194.56 L315.19,194.66 L315.95,194.76 L316.71,194.86 L317.48,194.96 L318.24,195.07 L319.00,195.17 L319.76,195.27 L320.53,195.37 L321.29,195.47 L322.05,195.57 L322.82,195.67 L323.58,195.77 L324.34,195.87 L325.11,195.97 L325.87,196.07 L326.63,196.17 L327.39,196.27 L328.16,196.37 L328.92,196.47 L329.68,196.57 L330.45,196.67 L331.21,196.76 L331.97,196.86 L332.74,196.96 L333.50,197.06 L334.27,197.16 L335.03,197.25 L335.79,197.35 L336.56,197.45 L337.32,197.54 L338.08,197.64 L338.85,197.74 L339.61,197.83 L340.37,197.93 L341.14,198.03 L341.90,198.12 L342.67,198.22 L343.43,198.31 L344.19,198.41 L344.96,198.50 L345.72,198.60 L346.48,198.69 L347.25,198.78 L348.01,198.88 L348.78,198.97 L349.54,199.06 L350.30,199.16 L351.07,199.25 L351.83,199.34 L352.60,199.43 L353.36,199.53 L354.13,199.62 L354.89,199.71 L355.65,199.80 L356.42,199.89 L357.18,199.98 L357.95,200.07 L358.71,200.16 L359.48,200.25 L360.24,200.34 L361.01,200.43 L361.77,200.52 L362.54,200.61 L363.30,200.70" stroke="#0000ff" stroke-width="1.9"/>
</g>
<text class="ti" x="196.20" y="259.3" text-anchor="middle">2</text>
<text class="ti" x="237.70" y="259.3" text-anchor="middle">4</text>
<text class="ti" x="279.20" y="259.3" text-anchor="middle">6</text>
<text class="ti" x="320.70" y="259.3" text-anchor="middle">8</text>
<text class="ti" x="363.10" y="259.3" text-anchor="middle">10</text>
<text class="ti" x="172.6" y="247.60" text-anchor="end">0.30</text>
<text class="ti" x="172.6" y="213.10" text-anchor="end">0.35</text>
<text class="ti" x="172.6" y="178.60" text-anchor="end">0.40</text>
<text class="ti" x="172.6" y="144.10" text-anchor="end">0.45</text>
<text class="ti" x="172.6" y="109.60" text-anchor="end">0.50</text>
<text class="ti" x="260.7" y="270.5" text-anchor="middle">d/z</text>
<g transform="translate(129.6,206.8) rotate(-90)"><text class="ti" x="0" y="0">F<tspan font-size="11px" dy="7.1" dx="-0.6">e</tspan><tspan dy="-7.1" dx="0.6">(z)/F</tspan><tspan font-size="11px" dy="-9.5">bulk</tspan></text><text x="54.6" y="7.1" font-size="11px">e</text></g>
<path d="M277.4,90.20H312.6" stroke="#ff0000" stroke-width="1.8" fill="none"/>
<text class="lg" x="316.1" y="95.70">566 K</text>
<path d="M277.4,109.30H312.6" stroke="#ff8000" stroke-width="1.8" fill="none"/>
<text class="lg" x="316.1" y="114.80">522 K</text>
<path d="M277.4,128.40H312.6" stroke="#808000" stroke-width="1.8" fill="none"/>
<text class="lg" x="316.1" y="133.90">478.5 K</text>
<path d="M277.4,147.50H312.6" stroke="#008000" stroke-width="1.8" fill="none"/>
<text class="lg" x="316.1" y="153.00">457.2 K</text>
<path d="M277.4,166.60H312.6" stroke="#0000ff" stroke-width="1.8" fill="none"/>
<text class="lg" x="316.1" y="172.10">436.2 K</text>
</svg></body></html>
